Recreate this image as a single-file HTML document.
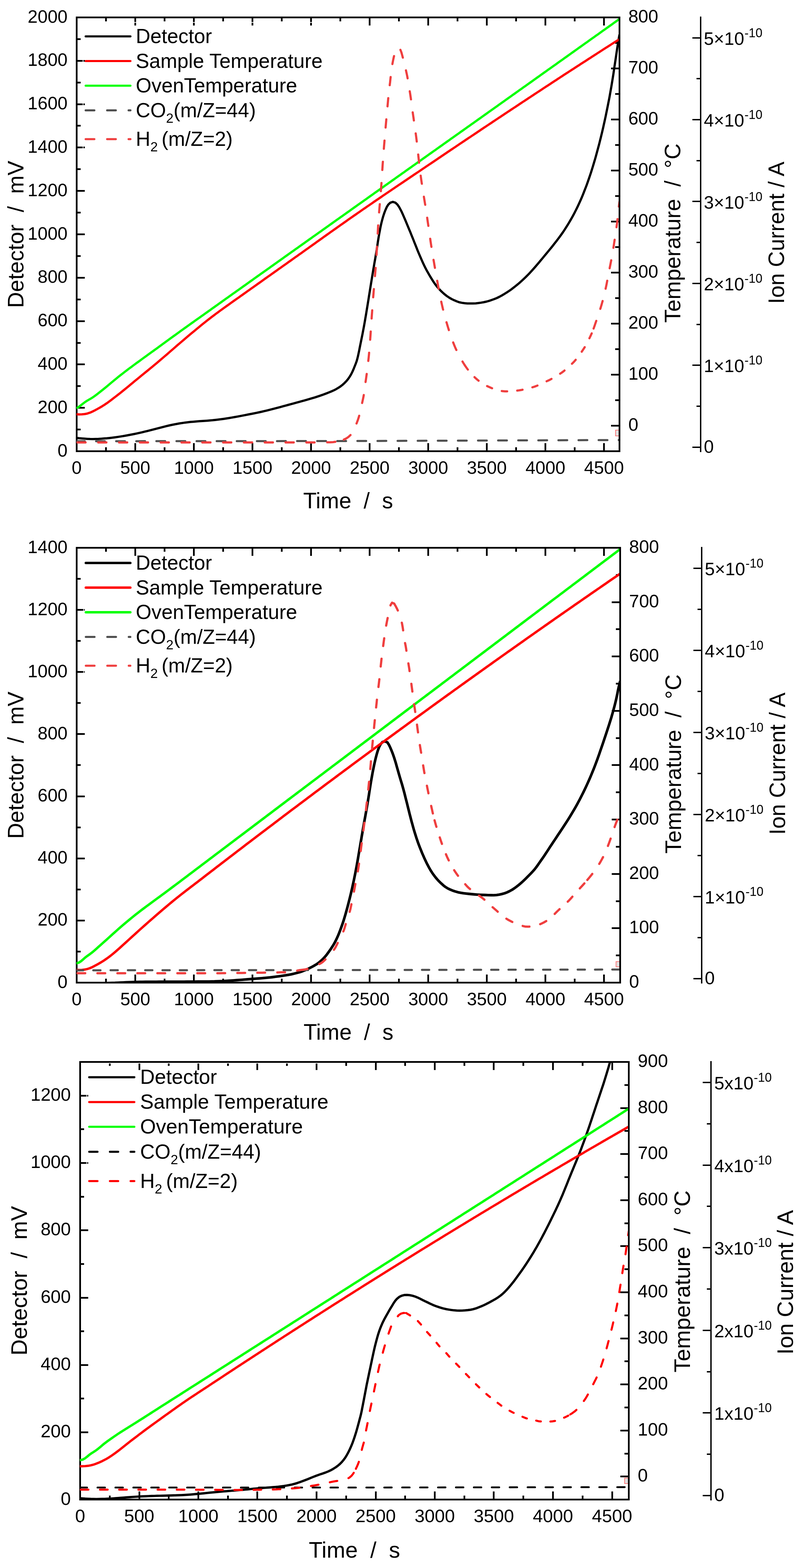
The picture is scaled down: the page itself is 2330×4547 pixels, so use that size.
<!DOCTYPE html>
<html lang="en">
<head>
<meta charset="utf-8">
<title>Detector, temperature and ion current over time</title>
<style>
html,body{margin:0;padding:0;background:#fff;}
body{width:2330px;height:4547px;overflow:hidden;}
svg{display:block;font-family:"Liberation Sans", Arial, sans-serif;}
text{fill:#000;}
</style>
</head>
<body>
<svg width="2330" height="4547" viewBox="0 0 2330 4547">
<rect width="2330" height="4547" fill="#fff"/>
<g id="panel1">
<rect x="1786" y="1247.3" width="12" height="16.7" fill="#e0e0e0" stroke="#ff7070" stroke-width="2"/>
<g shape-rendering="crispEdges">
<rect x="220" y="48" width="1580" height="5" fill="#000"/>
<rect x="220" y="1306" width="1580" height="5" fill="#000"/>
<rect x="220" y="48" width="5" height="1263" fill="#000"/>
<rect x="1795" y="48" width="5" height="1263" fill="#000"/>
<rect x="220" y="1285" width="5" height="21" fill="#000"/>
<rect x="220" y="53" width="5" height="21" fill="#000"/>
<rect x="305" y="1297" width="5" height="9" fill="#000"/>
<rect x="305" y="53" width="5" height="9" fill="#000"/>
<rect x="390" y="1285" width="5" height="21" fill="#000"/>
<rect x="390" y="53" width="5" height="21" fill="#000"/>
<rect x="475" y="1297" width="5" height="9" fill="#000"/>
<rect x="475" y="53" width="5" height="9" fill="#000"/>
<rect x="560" y="1285" width="5" height="21" fill="#000"/>
<rect x="560" y="53" width="5" height="21" fill="#000"/>
<rect x="645" y="1297" width="5" height="9" fill="#000"/>
<rect x="645" y="53" width="5" height="9" fill="#000"/>
<rect x="730" y="1285" width="5" height="21" fill="#000"/>
<rect x="730" y="53" width="5" height="21" fill="#000"/>
<rect x="815" y="1297" width="5" height="9" fill="#000"/>
<rect x="815" y="53" width="5" height="9" fill="#000"/>
<rect x="900" y="1285" width="5" height="21" fill="#000"/>
<rect x="900" y="53" width="5" height="21" fill="#000"/>
<rect x="985" y="1297" width="5" height="9" fill="#000"/>
<rect x="985" y="53" width="5" height="9" fill="#000"/>
<rect x="1070" y="1285" width="5" height="21" fill="#000"/>
<rect x="1070" y="53" width="5" height="21" fill="#000"/>
<rect x="1155" y="1297" width="5" height="9" fill="#000"/>
<rect x="1155" y="53" width="5" height="9" fill="#000"/>
<rect x="1240" y="1285" width="5" height="21" fill="#000"/>
<rect x="1240" y="53" width="5" height="21" fill="#000"/>
<rect x="1325" y="1297" width="5" height="9" fill="#000"/>
<rect x="1325" y="53" width="5" height="9" fill="#000"/>
<rect x="1410" y="1285" width="5" height="21" fill="#000"/>
<rect x="1410" y="53" width="5" height="21" fill="#000"/>
<rect x="1495" y="1297" width="5" height="9" fill="#000"/>
<rect x="1495" y="53" width="5" height="9" fill="#000"/>
<rect x="1580" y="1285" width="5" height="21" fill="#000"/>
<rect x="1580" y="53" width="5" height="21" fill="#000"/>
<rect x="1665" y="1297" width="5" height="9" fill="#000"/>
<rect x="1665" y="53" width="5" height="9" fill="#000"/>
<rect x="1750" y="1285" width="5" height="21" fill="#000"/>
<rect x="1750" y="53" width="5" height="21" fill="#000"/>
<rect x="225" y="48" width="21" height="5" fill="#000"/>
<rect x="225" y="111" width="9" height="5" fill="#000"/>
<rect x="225" y="174" width="21" height="5" fill="#000"/>
<rect x="225" y="237" width="9" height="5" fill="#000"/>
<rect x="225" y="300" width="21" height="5" fill="#000"/>
<rect x="225" y="362" width="9" height="5" fill="#000"/>
<rect x="225" y="425" width="21" height="5" fill="#000"/>
<rect x="225" y="488" width="9" height="5" fill="#000"/>
<rect x="225" y="551" width="21" height="5" fill="#000"/>
<rect x="225" y="614" width="9" height="5" fill="#000"/>
<rect x="225" y="677" width="21" height="5" fill="#000"/>
<rect x="225" y="740" width="9" height="5" fill="#000"/>
<rect x="225" y="803" width="21" height="5" fill="#000"/>
<rect x="225" y="866" width="9" height="5" fill="#000"/>
<rect x="225" y="929" width="21" height="5" fill="#000"/>
<rect x="225" y="992" width="9" height="5" fill="#000"/>
<rect x="225" y="1054" width="21" height="5" fill="#000"/>
<rect x="225" y="1117" width="9" height="5" fill="#000"/>
<rect x="225" y="1180" width="21" height="5" fill="#000"/>
<rect x="225" y="1243" width="9" height="5" fill="#000"/>
<rect x="225" y="1306" width="21" height="5" fill="#000"/>
<rect x="1773" y="48" width="22" height="5" fill="#000"/>
<rect x="1785" y="122" width="10" height="5" fill="#000"/>
<rect x="1773" y="196" width="22" height="5" fill="#000"/>
<rect x="1785" y="270" width="10" height="5" fill="#000"/>
<rect x="1773" y="344" width="22" height="5" fill="#000"/>
<rect x="1785" y="418" width="10" height="5" fill="#000"/>
<rect x="1773" y="492" width="22" height="5" fill="#000"/>
<rect x="1785" y="566" width="10" height="5" fill="#000"/>
<rect x="1773" y="640" width="22" height="5" fill="#000"/>
<rect x="1785" y="714" width="10" height="5" fill="#000"/>
<rect x="1773" y="788" width="22" height="5" fill="#000"/>
<rect x="1785" y="862" width="10" height="5" fill="#000"/>
<rect x="1773" y="936" width="22" height="5" fill="#000"/>
<rect x="1785" y="1010" width="10" height="5" fill="#000"/>
<rect x="1773" y="1084" width="22" height="5" fill="#000"/>
<rect x="1785" y="1158" width="10" height="5" fill="#000"/>
<rect x="1773" y="1232" width="22" height="5" fill="#000"/>
<rect x="1785" y="1306" width="10" height="5" fill="#000"/>
<rect x="2031" y="48" width="4" height="1263" fill="#000"/>
<rect x="2009" y="108" width="22" height="4" fill="#000"/>
<rect x="2021" y="226" width="10" height="4" fill="#000"/>
<rect x="2009" y="345" width="22" height="4" fill="#000"/>
<rect x="2021" y="464" width="10" height="4" fill="#000"/>
<rect x="2009" y="582" width="22" height="4" fill="#000"/>
<rect x="2021" y="701" width="10" height="4" fill="#000"/>
<rect x="2009" y="820" width="22" height="4" fill="#000"/>
<rect x="2021" y="939" width="10" height="4" fill="#000"/>
<rect x="2009" y="1057" width="22" height="4" fill="#000"/>
<rect x="2021" y="1176" width="10" height="4" fill="#000"/>
<rect x="2009" y="1295" width="22" height="4" fill="#000"/>
</g>
<path d="M241,440V65H945" fill="none" stroke="#fff" stroke-width="2" shape-rendering="crispEdges"/>
<clipPath id="c1"><rect x="221.5" y="48" width="1573.5" height="1263"/></clipPath>
<g clip-path="url(#c1)" fill="none" stroke-linejoin="round">
<path d="M221.5,1270 L229.5,1270.8 L237.5,1271.4 L245.5,1272.1 L253.5,1272.7 L261.5,1273.1 L269.5,1273.2 L277.5,1273 L285.5,1272.7 L293.5,1272.2 L301.5,1271.6 L309.5,1271 L317.5,1270.2 L325.4,1269.3 L333.4,1268.2 L341.3,1267.1 L349.2,1265.9 L357.2,1264.6 L365.1,1263.2 L373,1261.8 L380.8,1260.3 L388.7,1258.7 L396.5,1257.1 L404.4,1255.3 L412.2,1253.6 L420,1251.7 L427.8,1249.8 L435.5,1247.9 L443.3,1245.9 L451.1,1243.9 L458.8,1241.9 L466.6,1239.8 L474.4,1237.8 L482.1,1235.9 L490,1234 L497.8,1232.3 L505.6,1230.7 L513.5,1229.2 L521.4,1227.8 L529.3,1226.6 L537.2,1225.4 L545.1,1224.5 L553.1,1223.6 L561.1,1222.9 L569.1,1222.2 L577.1,1221.6 L585.1,1221.1 L593.1,1220.6 L601.1,1220 L609.1,1219.3 L617.1,1218.6 L625,1217.7 L633,1216.8 L640.9,1215.8 L648.9,1214.7 L656.8,1213.5 L664.7,1212.3 L672.6,1210.9 L680.5,1209.5 L688.4,1208.1 L696.3,1206.6 L704.1,1205.1 L712,1203.6 L719.9,1202 L727.8,1200.5 L735.6,1199 L743.5,1197.4 L751.3,1195.7 L759.2,1194 L767,1192.2 L774.8,1190.3 L782.5,1188.4 L790.3,1186.4 L798.1,1184.4 L805.8,1182.4 L813.6,1180.3 L821.3,1178.2 L829,1176.1 L836.8,1174 L844.5,1171.9 L852.2,1169.8 L860,1167.7 L867.7,1165.6 L875.5,1163.4 L883.2,1161.3 L890.9,1159.1 L898.6,1156.9 L906.3,1154.6 L914,1152.3 L921.6,1149.8 L929.2,1147.3 L936.8,1144.7 L944.3,1141.9 L951.8,1139 L959.3,1136 L966.6,1132.8 L973.8,1129.3 L980.7,1125.3 L987.5,1120.9 L993.8,1116 L999.8,1110.6 L1005.4,1104.8 L1010.4,1098.6 L1014.9,1092 L1019,1085.1 L1022.6,1077.9 L1025.8,1070.6 L1028.8,1063.1 L1031.8,1055.6 L1034.6,1048.1 L1036.8,1040.5 L1038.7,1032.7 L1040.4,1024.9 L1042.1,1017 L1043.6,1009.1 L1045.2,1001.2 L1046.8,993.4 L1048.4,985.5 L1050,977.7 L1051.6,969.8 L1053.1,961.9 L1054.6,954 L1056.1,946.2 L1057.5,938.3 L1058.9,930.4 L1060.2,922.5 L1061.6,914.6 L1062.9,906.7 L1064.2,898.8 L1065.5,890.9 L1066.8,882.9 L1068.1,875 L1069.4,867.1 L1070.6,859.2 L1071.9,851.3 L1073.2,843.4 L1074.4,835.4 L1075.7,827.5 L1077,819.6 L1078.3,811.7 L1079.6,803.8 L1080.9,795.9 L1082.2,788 L1083.5,780.1 L1084.9,772.2 L1086.2,764.3 L1087.6,756.4 L1089,748.5 L1090.3,740.6 L1091.7,732.7 L1093,724.8 L1094.2,716.8 L1095.4,708.9 L1096.5,701 L1097.8,693.1 L1099.1,685.2 L1100.5,677.2 L1102,669.3 L1103.5,661.5 L1105.1,653.6 L1106.9,645.8 L1108.9,638 L1111,630.3 L1113.4,622.6 L1116,615.1 L1119,607.6 L1122.4,600.1 L1126.6,593.4 L1132.4,587.9 L1139.9,585.4 L1147.5,587.8 L1153.3,593.3 L1157.8,599.8 L1161.7,607 L1165.4,614.1 L1168.7,621.4 L1171.9,628.7 L1175.1,636.1 L1178.2,643.5 L1181.3,650.9 L1184.3,658.3 L1187.4,665.7 L1190.5,673.1 L1193.5,680.6 L1196.5,688 L1199.5,695.4 L1202.4,702.9 L1205.4,710.3 L1208.4,717.8 L1211.3,725.2 L1214.4,732.7 L1217.5,740 L1220.7,747.4 L1223.9,754.7 L1227.2,762.1 L1230.6,769.3 L1234.1,776.5 L1237.8,783.6 L1241.8,790.6 L1245.8,797.6 L1249.9,804.5 L1254.1,811.3 L1258.4,818 L1263,824.6 L1267.9,830.9 L1273.1,837.1 L1278.6,842.8 L1284.4,848.4 L1290.4,853.7 L1296.8,858.6 L1303.5,863.1 L1310.4,867.1 L1317.6,870.6 L1325,873.8 L1332.5,876.5 L1340.3,878.1 L1348.3,879.2 L1356.3,879.9 L1364.3,880 L1372.3,880 L1380.3,879.8 L1388.3,878.8 L1396.2,877.6 L1404.2,876.2 L1412,874.5 L1419.7,872.3 L1427.3,869.7 L1434.8,867 L1442.3,864 L1449.4,860.5 L1456.5,856.6 L1463.4,852.5 L1470.2,848.3 L1476.9,843.9 L1483.4,839.3 L1489.8,834.4 L1496.1,829.5 L1502.4,824.4 L1508.5,819.2 L1514.4,813.9 L1520.3,808.4 L1526.1,802.8 L1531.7,797.2 L1537.3,791.4 L1542.7,785.5 L1548.1,779.5 L1553.4,773.5 L1558.6,767.4 L1563.8,761.3 L1568.9,755.1 L1574.1,749 L1579.2,742.8 L1584.3,736.7 L1589.4,730.5 L1594.5,724.3 L1599.6,718.1 L1604.6,711.9 L1609.5,705.6 L1614.5,699.3 L1619.3,692.9 L1624.1,686.5 L1628.8,680 L1633.4,673.5 L1637.9,666.8 L1642.2,660.1 L1646.5,653.3 L1650.7,646.4 L1654.7,639.5 L1658.7,632.6 L1662.6,625.6 L1666.4,618.5 L1670,611.4 L1673.6,604.2 L1677.1,597 L1680.5,589.7 L1683.8,582.4 L1687,575.1 L1690.1,567.7 L1693.1,560.2 L1696,552.8 L1698.9,545.3 L1701.8,537.8 L1704.5,530.3 L1707.2,522.7 L1709.8,515.1 L1712.4,507.5 L1714.9,499.9 L1717.3,492.3 L1719.7,484.6 L1722,477 L1724.3,469.3 L1726.6,461.6 L1728.8,453.9 L1730.9,446.1 L1733,438.4 L1735.1,430.7 L1737.2,422.9 L1739.2,415.2 L1741.1,407.4 L1743.1,399.6 L1745,391.8 L1746.9,384 L1748.7,376.2 L1750.5,368.4 L1752.2,360.6 L1754,352.8 L1755.7,344.9 L1757.4,337.1 L1759,329.2 L1760.6,321.4 L1762.2,313.5 L1763.8,305.7 L1765.3,297.8 L1766.9,289.9 L1768.4,282.1 L1769.8,274.2 L1771.2,266.3 L1772.6,258.4 L1774,250.5 L1775.3,242.6 L1776.6,234.7 L1777.9,226.8 L1779.2,218.8 L1780.4,210.9 L1781.5,203 L1782.7,195.1 L1783.9,187.1 L1785.1,179.2 L1786.3,171.3 L1787.5,163.3 L1788.6,155.4 L1789.8,147.5 L1791,139.6 L1792.2,131.6 L1793.5,123.7 L1794.8,115.8 L1796.1,107.9 L1797.5,100" stroke="#000000" stroke-width="6.5"/>
<path d="M221.5,1201.3 L229.5,1201.7 L237.6,1201.6 L245.6,1200.8 L253.4,1199.2 L261,1196.7 L268.3,1193.5 L275.5,1189.9 L282.6,1186 L289.6,1182.1 L296.5,1178.1 L303.3,1173.8 L309.9,1169.3 L316.4,1164.6 L322.8,1159.8 L329.2,1154.9 L335.6,1150 L341.9,1145.1 L348.2,1140.2 L354.5,1135.1 L360.7,1130.1 L367,1125 L373.2,1119.9 L379.3,1114.8 L385.5,1109.7 L391.7,1104.6 L397.9,1099.5 L404.1,1094.4 L410.3,1089.3 L416.5,1084.2 L422.8,1079.1 L429,1074.1 L435.2,1069 L441.4,1063.9 L447.6,1058.8 L453.8,1053.7 L459.9,1048.5 L466,1043.3 L472.1,1038.1 L478.2,1032.9 L484.3,1027.7 L490.4,1022.4 L496.4,1017.1 L502.5,1011.9 L508.5,1006.6 L514.6,1001.3 L520.7,996.1 L526.8,990.9 L532.9,985.7 L539,980.5 L545.1,975.3 L551.3,970.1 L557.4,965 L563.6,959.9 L569.8,954.8 L576,949.7 L582.2,944.6 L588.4,939.5 L594.7,934.5 L601,929.5 L607.3,924.6 L613.7,919.7 L620.1,914.8 L626.5,910 L632.9,905.3 L639.4,900.5 L645.9,895.8 L652.4,891.1 L659,886.5 L665.5,881.8 L672,877.2 L678.6,872.5 L685.1,867.9 L691.7,863.3 L698.2,858.6 L704.8,854 L711.3,849.3 L717.9,844.7 L724.4,840.1 L731,835.4 L737.5,830.8 L744.1,826.1 L750.6,821.5 L757.2,816.8 L763.7,812.2 L770.2,807.5 L776.8,802.9 L783.3,798.3 L789.9,793.6 L796.4,789 L803,784.3 L809.5,779.7 L816.1,775.1 L822.6,770.4 L829.2,765.8 L835.7,761.1 L842.3,756.5 L848.8,751.8 L855.3,747.2 L861.9,742.6 L868.4,737.9 L875,733.3 L881.5,728.6 L888.1,723.9 L894.6,719.3 L901.1,714.6 L907.7,710 L914.2,705.3 L920.7,700.7 L927.3,696 L933.8,691.4 L940.3,686.7 L946.9,682 L953.4,677.4 L960,672.7 L966.5,668.1 L973.1,663.5 L979.6,658.8 L986.2,654.2 L992.7,649.6 L999.3,645 L1005.9,640.3 L1012.4,635.7 L1019,631.1 L1025.6,626.5 L1032.2,622 L1038.8,617.4 L1045.4,612.8 L1052,608.2 L1058.6,603.7 L1065.2,599.1 L1071.8,594.6 L1078.4,590.1 L1085,585.5 L1091.6,581 L1098.3,576.5 L1104.9,572 L1111.5,567.4 L1118.2,562.9 L1124.8,558.4 L1131.5,553.9 L1138.1,549.4 L1144.8,544.9 L1151.4,540.4 L1158.1,535.9 L1164.7,531.5 L1171.4,527 L1178,522.5 L1184.7,518 L1191.3,513.5 L1198,509 L1204.6,504.5 L1211.3,500.1 L1218,495.6 L1224.6,491.1 L1231.3,486.6 L1237.9,482.1 L1244.6,477.6 L1251.2,473.2 L1257.9,468.7 L1264.6,464.2 L1271.2,459.7 L1277.9,455.2 L1284.5,450.7 L1291.2,446.3 L1297.8,441.8 L1304.5,437.3 L1311.2,432.8 L1317.8,428.4 L1324.5,423.9 L1331.1,419.4 L1337.8,414.9 L1344.5,410.5 L1351.1,406 L1357.8,401.5 L1364.5,397.1 L1371.2,392.6 L1377.8,388.2 L1384.5,383.7 L1391.2,379.2 L1397.8,374.8 L1404.5,370.3 L1411.2,365.9 L1417.9,361.4 L1424.6,357 L1431.2,352.5 L1437.9,348.1 L1444.6,343.6 L1451.3,339.2 L1458,334.8 L1464.7,330.3 L1471.3,325.9 L1478,321.5 L1484.7,317 L1491.4,312.6 L1498.1,308.2 L1504.8,303.7 L1511.5,299.3 L1518.2,294.9 L1524.9,290.5 L1531.6,286 L1538.3,281.6 L1545,277.2 L1551.7,272.8 L1558.4,268.4 L1565.1,264 L1571.8,259.6 L1578.5,255.1 L1585.2,250.7 L1591.9,246.4 L1598.6,242 L1605.4,237.6 L1612.1,233.2 L1618.8,228.8 L1625.5,224.4 L1632.2,220 L1639,215.6 L1645.7,211.3 L1652.4,206.9 L1659.2,202.5 L1665.9,198.2 L1672.6,193.8 L1679.4,189.4 L1686.1,185.1 L1692.8,180.7 L1699.6,176.4 L1706.3,172 L1713.1,167.7 L1719.8,163.3 L1726.6,159 L1733.3,154.6 L1740.1,150.3 L1746.8,145.9 L1753.6,141.6 L1760.3,137.3 L1767.1,133 L1773.8,128.6 L1780.6,124.3 L1787.4,120 L1794.1,115.7 L1797.5,113.5" stroke="#ff0000" stroke-width="6.5"/>
<path d="M221.5,1184 L228.7,1179.9 L234.9,1175.2 L241.1,1170.3 L247.4,1165.5 L254.1,1161.3 L261.1,1157.3 L267.9,1153.2 L274.5,1148.6 L280.9,1143.8 L287.3,1138.9 L293.6,1133.9 L299.9,1128.9 L306.1,1123.9 L312.3,1118.8 L318.5,1113.6 L324.6,1108.4 L330.8,1103.2 L337,1098.2 L343.2,1093.1 L349.5,1088.1 L355.8,1083.2 L362.2,1078.2 L368.6,1073.4 L375,1068.5 L381.4,1063.8 L387.9,1059 L394.4,1054.2 L400.9,1049.5 L407.3,1044.8 L413.8,1040 L420.3,1035.3 L426.8,1030.6 L433.3,1025.9 L439.9,1021.2 L446.4,1016.5 L452.9,1011.8 L459.4,1007.1 L465.8,1002.3 L472.3,997.6 L478.8,992.9 L485.3,988.1 L491.8,983.4 L498.3,978.7 L504.8,974 L511.3,969.3 L517.8,964.6 L524.3,959.9 L530.9,955.2 L537.4,950.5 L543.9,945.9 L550.5,941.2 L557,936.5 L563.6,931.9 L570.1,927.2 L576.7,922.6 L583.2,917.9 L589.7,913.3 L596.3,908.6 L602.8,904 L609.4,899.3 L615.9,894.7 L622.5,890 L629,885.4 L635.6,880.7 L642.1,876 L648.6,871.4 L655.2,866.7 L661.7,862.1 L668.3,857.4 L674.8,852.7 L681.3,848.1 L687.9,843.4 L694.4,838.8 L701,834.1 L707.5,829.5 L714.1,824.8 L720.6,820.1 L727.1,815.5 L733.7,810.8 L740.2,806.2 L746.8,801.5 L753.3,796.9 L759.9,792.2 L766.4,787.6 L773,782.9 L779.5,778.3 L786,773.6 L792.6,769 L799.1,764.3 L805.7,759.6 L812.2,755 L818.8,750.3 L825.3,745.7 L831.9,741 L838.4,736.4 L845,731.7 L851.5,727.1 L858,722.4 L864.6,717.8 L871.1,713.1 L877.7,708.5 L884.2,703.8 L890.8,699.2 L897.3,694.5 L903.9,689.9 L910.4,685.2 L917,680.6 L923.5,675.9 L930.1,671.3 L936.6,666.6 L943.2,662 L949.7,657.3 L956.3,652.7 L962.8,648 L969.3,643.4 L975.9,638.7 L982.4,634.1 L989,629.4 L995.5,624.8 L1002.1,620.1 L1008.6,615.5 L1015.2,610.8 L1021.7,606.2 L1028.3,601.5 L1034.8,596.9 L1041.4,592.2 L1047.9,587.6 L1054.5,582.9 L1061,578.3 L1067.6,573.6 L1074.1,569 L1080.7,564.3 L1087.2,559.7 L1093.8,555 L1100.3,550.4 L1106.9,545.7 L1113.4,541.1 L1120,536.4 L1126.5,531.8 L1133.1,527.2 L1139.6,522.5 L1146.2,517.9 L1152.7,513.2 L1159.3,508.6 L1165.8,503.9 L1172.4,499.3 L1178.9,494.6 L1185.5,490 L1192,485.4 L1198.6,480.7 L1205.1,476.1 L1211.7,471.4 L1218.2,466.8 L1224.8,462.1 L1231.3,457.5 L1237.9,452.8 L1244.4,448.2 L1251,443.5 L1257.5,438.9 L1264.1,434.3 L1270.6,429.6 L1277.2,425 L1283.7,420.3 L1290.3,415.7 L1296.8,411 L1303.4,406.4 L1309.9,401.7 L1316.5,397.1 L1323,392.4 L1329.6,387.8 L1336.1,383.1 L1342.7,378.5 L1349.2,373.9 L1355.8,369.2 L1362.3,364.6 L1368.9,359.9 L1375.4,355.3 L1382,350.6 L1388.5,346 L1395.1,341.3 L1401.6,336.7 L1408.2,332 L1414.7,327.4 L1421.3,322.7 L1427.8,318.1 L1434.4,313.4 L1440.9,308.8 L1447.4,304.1 L1454,299.4 L1460.5,294.8 L1467.1,290.1 L1473.6,285.5 L1480.2,280.8 L1486.7,276.2 L1493.3,271.5 L1499.8,266.9 L1506.4,262.2 L1512.9,257.6 L1519.4,252.9 L1526,248.3 L1532.5,243.6 L1539.1,239 L1545.6,234.3 L1552.2,229.6 L1558.7,225 L1565.3,220.3 L1571.8,215.7 L1578.3,211 L1584.9,206.4 L1591.4,201.7 L1598,197.1 L1604.5,192.4 L1611.1,187.8 L1617.6,183.1 L1624.1,178.4 L1630.7,173.8 L1637.2,169.1 L1643.8,164.5 L1650.3,159.8 L1656.9,155.2 L1663.4,150.5 L1669.9,145.8 L1676.5,141.2 L1683,136.5 L1689.6,131.9 L1696.1,127.2 L1702.7,122.6 L1709.2,117.9 L1715.7,113.2 L1722.3,108.6 L1728.8,103.9 L1735.4,99.3 L1741.9,94.6 L1748.4,89.9 L1755,85.3 L1761.5,80.6 L1768.1,76 L1774.6,71.3 L1781.1,66.7 L1787.7,62 L1794.2,57.3 L1797.5,55" stroke="#00ff00" stroke-width="6.5"/>
<path d="M221.5,1279.5 L1000,1279 L1797.5,1276" stroke="#505050" stroke-width="6" stroke-dasharray="25.5 32.83" stroke-dashoffset="1.1" stroke-linecap="round"/>
<path d="M221.5,1283 L229.5,1283 L237.5,1283 L245.5,1283 L253.5,1283 L261.6,1283 L269.6,1283 L277.6,1283 L285.6,1283 L293.6,1283 L301.6,1283 L309.6,1283 L317.6,1283 L325.6,1283 L333.6,1283 L341.7,1283 L349.7,1283 L357.7,1283 L365.7,1283 L373.7,1283 L381.7,1283 L389.7,1283 L397.7,1283 L405.7,1283 L413.8,1283 L421.8,1283 L429.8,1283 L437.8,1283 L445.8,1283 L453.8,1283 L461.8,1283 L469.8,1283 L477.8,1283 L485.8,1283 L493.9,1283 L501.9,1283 L509.9,1283 L517.9,1283 L525.9,1283 L533.9,1283 L541.9,1283 L549.9,1283 L557.9,1283 L566,1283 L574,1283 L582,1283 L590,1283 L598,1283 L606,1283 L614,1283 L622,1283 L630,1283 L638,1283 L646.1,1283 L654.1,1283 L662.1,1283 L670.1,1283 L678.1,1283 L686.1,1283 L694.1,1283 L702.1,1283 L710.1,1283 L718.2,1283 L726.2,1283 L734.2,1283 L742.2,1283 L750.2,1283 L758.2,1283 L766.2,1283 L774.2,1283 L782.2,1283 L790.3,1283 L798.3,1283 L806.3,1283 L814.3,1283 L822.3,1283 L830.3,1283 L838.3,1283 L846.3,1283 L854.3,1283 L862.3,1283 L870.4,1283 L878.4,1283 L886.4,1283 L894.4,1283 L902.4,1283 L910.4,1283 L918.4,1283 L926.5,1282.9 L934.5,1282.8 L942.5,1282.8 L950.5,1282.7 L958.5,1282.5 L966.5,1282.1 L974.4,1281 L982.3,1279.6 L990.1,1277.6 L997.6,1274.8" stroke="#ef3f3f" stroke-width="6.3" stroke-dasharray="23.7 36.7" stroke-dashoffset="-3.1" stroke-linecap="round"/>
<path d="M997.6,1274.8 L1004.8,1271.3 L1011.4,1266.8 L1017.4,1261.2 L1022.1,1255 L1026,1248.1 L1029.4,1240.6 L1032.5,1233.1 L1035.5,1225.7 L1038.3,1218.2 L1040.8,1210.6 L1043,1202.9 L1045,1195.1 L1046.8,1187.3 L1048.4,1179.5 L1050.1,1171.6 L1051.8,1163.8 L1053.5,1156 L1055.1,1148.1 L1056.3,1140.2 L1057.4,1132.3 L1058.4,1124.3 L1059.4,1116.4 L1060.6,1108.4 L1061.8,1100.5 L1062.9,1092.6 L1064,1084.7 L1065,1076.7 L1065.9,1068.8 L1066.9,1060.8 L1067.9,1052.9 L1068.8,1044.9 L1069.7,1037 L1070.5,1029 L1071.2,1021 L1071.9,1013 L1072.5,1005.1 L1073.2,997.1 L1073.8,989.1 L1074.4,981.1 L1075,973.1 L1075.5,965.1 L1076,957.1 L1076.5,949.1 L1077.1,941.1 L1077.6,933.2 L1078.2,925.2 L1078.7,917.2 L1079.3,909.2 L1079.9,901.2 L1080.5,893.2 L1081.1,885.2 L1081.7,877.2 L1082.3,869.2 L1082.9,861.3 L1083.6,853.3 L1084.2,845.3 L1084.9,837.3 L1085.5,829.3 L1086.2,821.3 L1086.9,813.4 L1087.6,805.4 L1088.2,797.4 L1088.9,789.4 L1089.5,781.4 L1090.1,773.4 L1090.7,765.4 L1091.3,757.5 L1091.8,749.5 L1092.4,741.5 L1092.8,733.5 L1093.3,725.5 L1093.8,717.5 L1094.2,709.5 L1094.7,701.5 L1095.1,693.5 L1095.5,685.5 L1096,677.5 L1096.4,669.5 L1096.9,661.5 L1097.3,653.5 L1097.8,645.5 L1098.4,637.5 L1098.9,629.5 L1099.5,621.5 L1100.2,613.5 L1100.8,605.6 L1101.5,597.6 L1102.2,589.6 L1102.9,581.6 L1103.6,573.6 L1104.2,565.7 L1104.9,557.7 L1105.5,549.7 L1106.1,541.7 L1106.7,533.7 L1107.2,525.7 L1107.8,517.7 L1108.3,509.7 L1108.8,501.7 L1109.3,493.7 L1109.8,485.7 L1110.3,477.8 L1110.9,469.8 L1111.5,461.8 L1112,453.8 L1112.6,445.8 L1113.3,437.8 L1113.9,429.8 L1114.5,421.8 L1115.2,413.9 L1115.8,405.9 L1116.5,397.9 L1117.2,389.9 L1117.8,381.9 L1118.5,373.9 L1119.2,366 L1119.9,358 L1120.6,350 L1121.3,342 L1122,334 L1122.7,326.1 L1123.5,318.1 L1124.2,310.1 L1125,302.1 L1125.7,294.2 L1126.4,286.2 L1127.2,278.2 L1127.9,270.2 L1128.8,262.3 L1129.8,254.3 L1130.9,246.4 L1131.9,238.4 L1132.7,230.5 L1133.6,222.5 L1134.4,214.5 L1135.4,206.6 L1136.6,198.7 L1137.8,190.7 L1139.1,182.8 L1140.6,175 L1142.3,167 L1144.2,159.1 L1146.6,151.6 L1150.5,144.7 L1156.6,140 L1161.9,144.5" stroke="#ef3f3f" stroke-width="6.3" stroke-dasharray="23.7 38" stroke-linecap="round"/>
<path d="M1161.9,144.5 L1164.7,151.9 L1167,160.1 L1169.1,167.9 L1171.2,175.6 L1173.1,183.4 L1174.9,191.3 L1176.7,199 L1178.6,206.9 L1180.3,214.7 L1181.9,222.5 L1183.3,230.4 L1184.6,238.3 L1185.8,246.2 L1187.2,254.1 L1188.5,262 L1189.8,269.9 L1191,277.8 L1192.2,285.8 L1193.2,293.7 L1194.3,301.7 L1195.3,309.6 L1196.4,317.5 L1197.5,325.5 L1198.6,333.4 L1199.8,341.3 L1200.9,349.3 L1202,357.2 L1203.2,365.1 L1204.3,373 L1205.4,381 L1206.5,388.9 L1207.6,396.8 L1208.6,404.8 L1209.5,412.7 L1210.5,420.7 L1211.4,428.6 L1212.3,436.6 L1213.1,444.6 L1213.9,452.5 L1214.8,460.5 L1215.6,468.5 L1216.5,476.4 L1217.5,484.4 L1218.5,492.3 L1219.5,500.3 L1220.5,508.2 L1221.6,516.2 L1222.7,524.1 L1223.9,532 L1225.1,539.9 L1226.4,547.8 L1227.6,555.8 L1228.9,563.7 L1230.1,571.6 L1231.4,579.5 L1232.7,587.4 L1234,595.3 L1235.2,603.2 L1236.5,611.1 L1237.7,619 L1238.9,627 L1240,634.9 L1241.1,642.8 L1242.3,650.7 L1243.4,658.7 L1244.5,666.6 L1245.7,674.5 L1246.8,682.5 L1248,690.4 L1249.1,698.3 L1250.3,706.2 L1251.5,714.1 L1252.7,722.1 L1254,730 L1255.3,737.9 L1256.7,745.8 L1258,753.7 L1259.4,761.6 L1260.7,769.4 L1262.1,777.3 L1263.4,785.2 L1264.8,793.1 L1266.2,801 L1267.6,808.9 L1269.1,816.8 L1270.5,824.7 L1271.9,832.6 L1273.4,840.4 L1274.9,848.3 L1276.4,856.2 L1278,864 L1279.7,871.9 L1281.4,879.7 L1283.2,887.5 L1285,895.3 L1287,903 L1289,910.8 L1291,918.5 L1293.2,926.3 L1295.4,934 L1297.7,941.7 L1300,949.3 L1302.4,957 L1304.8,964.6 L1307.4,972.2 L1310,979.8 L1312.8,987.3 L1315.6,994.8 L1318.6,1002.2 L1321.7,1009.6 L1325.1,1016.9 L1328.6,1024.1 L1332.3,1031.2 L1336.1,1038.3 L1340.1,1045.2 L1344.2,1052.1 L1348.5,1058.9" stroke="#ef3f3f" stroke-width="6.3" stroke-dasharray="23.7 38" stroke-linecap="round"/>
<path d="M1348.5,1058.9 L1353,1065.5 L1357.7,1072 L1362.6,1078.3 L1367.9,1084.4 L1373.4,1090.3 L1379.1,1095.8 L1385.1,1101.1 L1391.4,1106.2 L1397.9,1110.9 L1404.7,1115 L1411.8,1118.8 L1419.1,1122.2 L1426.4,1125.3 L1433.9,1128.3 L1441.5,1130.8 L1449.3,1132.6 L1457.2,1134.1 L1465.2,1134.9 L1473.1,1134.8 L1481.2,1134.4 L1489.2,1133.9 L1497.1,1133.1 L1505.1,1132.2 L1513,1130.9 L1520.8,1129.1 L1528.6,1127.1 L1536.4,1125.2 L1544.2,1123.3 L1551.8,1121 L1559.2,1118.1 L1566.4,1114.5 L1573.6,1110.9 L1581,1107.8 L1588.4,1104.7 L1595.6,1101.3 L1602.6,1097.5 L1609.5,1093.4 L1616.4,1089.2 L1623.2,1085 L1629.9,1080.6 L1636.3,1075.9 L1642.4,1070.7 L1648.3,1065.3 L1654.2,1059.9 L1660.1,1054.4 L1665.8,1048.8 L1671,1042.8 L1675.9,1036.5 L1680.7,1030 L1685.4,1023.5 L1690,1016.9 L1694.4,1010.3 L1698.6,1003.4 L1702.5,996.4 L1706.2,989.3 L1709.7,982.1 L1713.2,974.9 L1716.5,967.6 L1719.6,960.3 L1722.4,952.8" stroke="#ef3f3f" stroke-width="6.3" stroke-dasharray="15.7 29.3" stroke-linecap="round"/>
<path d="M1722.4,952.8 L1725.1,945.2 L1727.7,937.6 L1730.3,930 L1732.9,922.5 L1735.5,914.9 L1738,907.3 L1740.6,899.6 L1743,892 L1745.3,884.3 L1747.5,876.7 L1749.6,869 L1751.6,861.2 L1753.5,853.5 L1755.4,845.7 L1757.1,837.9 L1758.8,830.1 L1760.4,822.3 L1761.9,814.4 L1763.5,806.6 L1765,798.7 L1766.5,790.8 L1768,783 L1769.5,775.1 L1771.1,767.2 L1772.6,759.4 L1774.2,751.5 L1775.7,743.7 L1777.1,735.8 L1778.4,727.9 L1779.7,720 L1780.9,712.1 L1782.1,704.1 L1783.3,696.2 L1784.6,688.3 L1785.8,680.4 L1787,672.5 L1788.2,664.6 L1789.2,656.6 L1790.3,648.7 L1791.2,640.7 L1792.1,632.8 L1792.9,624.8 L1793.7,616.8 L1794.5,608.8 L1795.4,600.9 L1796.4,592.9 L1797.5,585" stroke="#ef3f3f" stroke-width="6.3" stroke-dasharray="23.7 36.7" stroke-linecap="round"/>
</g>
<text x="222.5" y="1373.5" font-size="52" text-anchor="middle" fill="#000">0</text>
<text x="392.5" y="1373.5" font-size="52" text-anchor="middle" fill="#000">500</text>
<text x="562.5" y="1373.5" font-size="52" text-anchor="middle" fill="#000">1000</text>
<text x="732.5" y="1373.5" font-size="52" text-anchor="middle" fill="#000">1500</text>
<text x="902.5" y="1373.5" font-size="52" text-anchor="middle" fill="#000">2000</text>
<text x="1072.5" y="1373.5" font-size="52" text-anchor="middle" fill="#000">2500</text>
<text x="1242.5" y="1373.5" font-size="52" text-anchor="middle" fill="#000">3000</text>
<text x="1412.5" y="1373.5" font-size="52" text-anchor="middle" fill="#000">3500</text>
<text x="1582.5" y="1373.5" font-size="52" text-anchor="middle" fill="#000">4000</text>
<text x="1752.5" y="1373.5" font-size="52" text-anchor="middle" fill="#000">4500</text>
<text x="196" y="65.5" font-size="52" text-anchor="end" fill="#000">2000</text>
<text x="196" y="191.3" font-size="52" text-anchor="end" fill="#000">1800</text>
<text x="196" y="317.1" font-size="52" text-anchor="end" fill="#000">1600</text>
<text x="196" y="442.9" font-size="52" text-anchor="end" fill="#000">1400</text>
<text x="196" y="568.7" font-size="52" text-anchor="end" fill="#000">1200</text>
<text x="196" y="694.5" font-size="52" text-anchor="end" fill="#000">1000</text>
<text x="196" y="820.3" font-size="52" text-anchor="end" fill="#000">800</text>
<text x="196" y="946.1" font-size="52" text-anchor="end" fill="#000">600</text>
<text x="196" y="1071.9" font-size="52" text-anchor="end" fill="#000">400</text>
<text x="196" y="1197.7" font-size="52" text-anchor="end" fill="#000">200</text>
<text x="196" y="1323.5" font-size="52" text-anchor="end" fill="#000">0</text>
<text x="1823.2" y="65" font-size="52" text-anchor="start" fill="#000">800</text>
<text x="1823.2" y="213" font-size="52" text-anchor="start" fill="#000">700</text>
<text x="1823.2" y="361" font-size="52" text-anchor="start" fill="#000">600</text>
<text x="1823.2" y="509" font-size="52" text-anchor="start" fill="#000">500</text>
<text x="1823.2" y="657" font-size="52" text-anchor="start" fill="#000">400</text>
<text x="1823.2" y="805" font-size="52" text-anchor="start" fill="#000">300</text>
<text x="1823.2" y="953" font-size="52" text-anchor="start" fill="#000">200</text>
<text x="1823.2" y="1101" font-size="52" text-anchor="start" fill="#000">100</text>
<text x="1823.2" y="1249" font-size="52" text-anchor="start" fill="#000">0</text>
<text x="2042.2" y="129.7" font-size="52">5×10<tspan font-size="36" dy="-21.9" dx="1">-10</tspan></text>
<text x="2042.2" y="367.1" font-size="52">4×10<tspan font-size="36" dy="-21.9" dx="1">-10</tspan></text>
<text x="2042.2" y="604.5" font-size="52">3×10<tspan font-size="36" dy="-21.9" dx="1">-10</tspan></text>
<text x="2042.2" y="841.9" font-size="52">2×10<tspan font-size="36" dy="-21.9" dx="1">-10</tspan></text>
<text x="2042.2" y="1079.3" font-size="52">1×10<tspan font-size="36" dy="-21.9" dx="1">-10</tspan></text>
<text x="2042.2" y="1312.7" font-size="52" text-anchor="start" fill="#000">0</text>
<text x="1010" y="1473.5" font-size="64" text-anchor="middle" fill="#000" xml:space="preserve">Time  /  s</text>
<text transform="translate(68,679.5) rotate(-90)" font-size="64" text-anchor="middle" xml:space="preserve">Detector  /  mV</text>
<text transform="translate(1973.5,676) rotate(-90)" font-size="64" text-anchor="middle" xml:space="preserve">Temperature  /  °C</text>
<text transform="translate(2275,675) rotate(-90)" font-size="64" text-anchor="middle" xml:space="preserve">Ion Current / A</text>
<line x1="248.5" y1="105.5" x2="378.5" y2="105.5" stroke="#000000" stroke-width="6" stroke-linecap="round"/>
<text x="394" y="125" font-size="58.5" xml:space="preserve">Detector</text>
<line x1="248.5" y1="177" x2="378.5" y2="177" stroke="#ff0000" stroke-width="6" stroke-linecap="round"/>
<text x="394" y="196.5" font-size="58.5" xml:space="preserve">Sample Temperature</text>
<line x1="248.5" y1="248.5" x2="378.5" y2="248.5" stroke="#00ff00" stroke-width="6" stroke-linecap="round"/>
<text x="394" y="268" font-size="58.5" xml:space="preserve">OvenTemperature</text>
<line x1="248.5" y1="320" x2="378.5" y2="320" stroke="#505050" stroke-width="6" stroke-linecap="round" stroke-dasharray="25.3 37"/>
<text x="394" y="339.5" font-size="58.5" xml:space="preserve">CO<tspan font-size="39" dy="16">2</tspan><tspan dy="-16">(m/Z=44)</tspan></text>
<line x1="248.5" y1="403.5" x2="378.5" y2="403.5" stroke="#ef3f3f" stroke-width="6" stroke-linecap="round" stroke-dasharray="25.3 37"/>
<text x="394" y="423" font-size="58.5" xml:space="preserve">H<tspan font-size="39" dy="16">2 </tspan><tspan dy="-16">(m/Z=2)</tspan></text>
</g>
<g id="panel2">
<rect x="1787.5" y="2788.5" width="12" height="15" fill="#e0e0e0" stroke="#ff7070" stroke-width="2"/>
<g shape-rendering="crispEdges">
<rect x="220" y="1586" width="1582" height="5" fill="#000"/>
<rect x="220" y="2847" width="1582" height="5" fill="#000"/>
<rect x="220" y="1586" width="5" height="1266" fill="#000"/>
<rect x="1797" y="1586" width="5" height="1266" fill="#000"/>
<rect x="220" y="2826" width="5" height="21" fill="#000"/>
<rect x="220" y="1591" width="5" height="21" fill="#000"/>
<rect x="305" y="2838" width="5" height="9" fill="#000"/>
<rect x="305" y="1591" width="5" height="9" fill="#000"/>
<rect x="390" y="2826" width="5" height="21" fill="#000"/>
<rect x="390" y="1591" width="5" height="21" fill="#000"/>
<rect x="475" y="2838" width="5" height="9" fill="#000"/>
<rect x="475" y="1591" width="5" height="9" fill="#000"/>
<rect x="560" y="2826" width="5" height="21" fill="#000"/>
<rect x="560" y="1591" width="5" height="21" fill="#000"/>
<rect x="645" y="2838" width="5" height="9" fill="#000"/>
<rect x="645" y="1591" width="5" height="9" fill="#000"/>
<rect x="730" y="2826" width="5" height="21" fill="#000"/>
<rect x="730" y="1591" width="5" height="21" fill="#000"/>
<rect x="815" y="2838" width="5" height="9" fill="#000"/>
<rect x="815" y="1591" width="5" height="9" fill="#000"/>
<rect x="900" y="2826" width="5" height="21" fill="#000"/>
<rect x="900" y="1591" width="5" height="21" fill="#000"/>
<rect x="985" y="2838" width="5" height="9" fill="#000"/>
<rect x="985" y="1591" width="5" height="9" fill="#000"/>
<rect x="1070" y="2826" width="5" height="21" fill="#000"/>
<rect x="1070" y="1591" width="5" height="21" fill="#000"/>
<rect x="1155" y="2838" width="5" height="9" fill="#000"/>
<rect x="1155" y="1591" width="5" height="9" fill="#000"/>
<rect x="1240" y="2826" width="5" height="21" fill="#000"/>
<rect x="1240" y="1591" width="5" height="21" fill="#000"/>
<rect x="1325" y="2838" width="5" height="9" fill="#000"/>
<rect x="1325" y="1591" width="5" height="9" fill="#000"/>
<rect x="1410" y="2826" width="5" height="21" fill="#000"/>
<rect x="1410" y="1591" width="5" height="21" fill="#000"/>
<rect x="1495" y="2838" width="5" height="9" fill="#000"/>
<rect x="1495" y="1591" width="5" height="9" fill="#000"/>
<rect x="1580" y="2826" width="5" height="21" fill="#000"/>
<rect x="1580" y="1591" width="5" height="21" fill="#000"/>
<rect x="1665" y="2838" width="5" height="9" fill="#000"/>
<rect x="1665" y="1591" width="5" height="9" fill="#000"/>
<rect x="1750" y="2826" width="5" height="21" fill="#000"/>
<rect x="1750" y="1591" width="5" height="21" fill="#000"/>
<rect x="225" y="1586" width="21" height="5" fill="#000"/>
<rect x="225" y="1676" width="9" height="5" fill="#000"/>
<rect x="225" y="1766" width="21" height="5" fill="#000"/>
<rect x="225" y="1856" width="9" height="5" fill="#000"/>
<rect x="225" y="1946" width="21" height="5" fill="#000"/>
<rect x="225" y="2036" width="9" height="5" fill="#000"/>
<rect x="225" y="2126" width="21" height="5" fill="#000"/>
<rect x="225" y="2216" width="9" height="5" fill="#000"/>
<rect x="225" y="2307" width="21" height="5" fill="#000"/>
<rect x="225" y="2397" width="9" height="5" fill="#000"/>
<rect x="225" y="2487" width="21" height="5" fill="#000"/>
<rect x="225" y="2577" width="9" height="5" fill="#000"/>
<rect x="225" y="2667" width="21" height="5" fill="#000"/>
<rect x="225" y="2757" width="9" height="5" fill="#000"/>
<rect x="225" y="2847" width="21" height="5" fill="#000"/>
<rect x="1775" y="1586" width="22" height="5" fill="#000"/>
<rect x="1787" y="1665" width="10" height="5" fill="#000"/>
<rect x="1775" y="1744" width="22" height="5" fill="#000"/>
<rect x="1787" y="1822" width="10" height="5" fill="#000"/>
<rect x="1775" y="1901" width="22" height="5" fill="#000"/>
<rect x="1787" y="1980" width="10" height="5" fill="#000"/>
<rect x="1775" y="2059" width="22" height="5" fill="#000"/>
<rect x="1787" y="2138" width="10" height="5" fill="#000"/>
<rect x="1775" y="2216" width="22" height="5" fill="#000"/>
<rect x="1787" y="2295" width="10" height="5" fill="#000"/>
<rect x="1775" y="2374" width="22" height="5" fill="#000"/>
<rect x="1787" y="2453" width="10" height="5" fill="#000"/>
<rect x="1775" y="2532" width="22" height="5" fill="#000"/>
<rect x="1787" y="2611" width="10" height="5" fill="#000"/>
<rect x="1775" y="2689" width="22" height="5" fill="#000"/>
<rect x="1787" y="2768" width="10" height="5" fill="#000"/>
<rect x="1775" y="2847" width="22" height="5" fill="#000"/>
<rect x="2034" y="1586" width="4" height="1266" fill="#000"/>
<rect x="2012" y="1646" width="22" height="4" fill="#000"/>
<rect x="2024" y="1765" width="10" height="4" fill="#000"/>
<rect x="2012" y="1884" width="22" height="4" fill="#000"/>
<rect x="2024" y="2003" width="10" height="4" fill="#000"/>
<rect x="2012" y="2122" width="22" height="4" fill="#000"/>
<rect x="2024" y="2241" width="10" height="4" fill="#000"/>
<rect x="2012" y="2360" width="22" height="4" fill="#000"/>
<rect x="2024" y="2479" width="10" height="4" fill="#000"/>
<rect x="2012" y="2598" width="22" height="4" fill="#000"/>
<rect x="2024" y="2717" width="10" height="4" fill="#000"/>
<rect x="2012" y="2836" width="22" height="4" fill="#000"/>
</g>
<path d="M242.5,1980V1591" fill="none" stroke="#fff" stroke-width="2" shape-rendering="crispEdges"/>
<clipPath id="c2"><rect x="221.5" y="1586" width="1575.5" height="1266"/></clipPath>
<g clip-path="url(#c2)" fill="none" stroke-linejoin="round">
<path d="M221.5,2851 L229.5,2851 L237.6,2851 L245.6,2851 L253.6,2851 L261.6,2851 L269.6,2850.9 L277.7,2850.9 L285.7,2850.9 L293.7,2850.8 L301.7,2850.8 L309.7,2850.7 L317.7,2850.5 L325.7,2850.3 L333.7,2850.1 L341.7,2849.7 L349.8,2849.3 L357.8,2849 L365.8,2848.6 L373.8,2848.3 L381.8,2848 L389.8,2847.8 L397.8,2847.5 L405.8,2847.4 L413.8,2847.2 L421.9,2847.1 L429.9,2847.1 L437.9,2847 L445.9,2847 L453.9,2847 L462,2846.9 L470,2846.9 L478,2846.9 L486,2846.8 L494,2846.8 L502,2846.8 L510.1,2846.8 L518.1,2846.7 L526.1,2846.7 L534.1,2846.7 L542.1,2846.6 L550.2,2846.6 L558.2,2846.5 L566.2,2846.5 L574.2,2846.4 L582.2,2846.4 L590.3,2846.3 L598.3,2846.3 L606.3,2846.2 L614.3,2846 L622.3,2845.9 L630.3,2845.6 L638.3,2845.3 L646.3,2845 L654.3,2844.5 L662.3,2844.1 L670.3,2843.6 L678.3,2843 L686.3,2842.4 L694.3,2841.8 L702.3,2841.2 L710.3,2840.5 L718.3,2839.9 L726.3,2839.3 L734.3,2838.6 L742.3,2838 L750.3,2837.4 L758.3,2836.7 L766.3,2836 L774.3,2835.3 L782.2,2834.5 L790.2,2833.6 L798.2,2832.6 L806.1,2831.5 L814.1,2830.4 L822,2829.3 L829.9,2828.1 L837.8,2826.7 L845.7,2825.2 L853.5,2823.4 L861.3,2821.4 L869.1,2819.3 L876.7,2816.8 L884.1,2813.9 L891.5,2810.7 L898.7,2807.2 L905.8,2803.5 L912.8,2799.6 L919.7,2795.4 L926.1,2790.7 L932.2,2785.5 L938,2779.9 L943.4,2774 L948.5,2767.8 L953.2,2761.3 L957.9,2754.8 L962.3,2748.1 L966.7,2741.3 L970.7,2734.4 L974.4,2727.3 L977.8,2720.1 L981.1,2712.8 L984.1,2705.3 L987,2697.8 L989.8,2690.3 L992.5,2682.8 L995.1,2675.2 L997.6,2667.5 L999.9,2659.9 L1002.2,2652.2 L1004.4,2644.4 L1006.5,2636.7 L1008.6,2629 L1010.6,2621.2 L1012.6,2613.4 L1014.6,2605.7 L1016.5,2597.9 L1018.4,2590.1 L1020.2,2582.3 L1022,2574.5 L1023.7,2566.6 L1025.4,2558.8 L1027.1,2551 L1028.7,2543.1 L1030.3,2535.3 L1031.8,2527.4 L1033.3,2519.5 L1034.8,2511.6 L1036.2,2503.7 L1037.6,2495.8 L1039,2487.9 L1040.3,2480 L1041.7,2472.1 L1043,2464.2 L1044.4,2456.3 L1045.7,2448.4 L1047,2440.5 L1048.4,2432.6 L1049.7,2424.7 L1051.1,2416.8 L1052.4,2408.9 L1053.8,2401 L1055.2,2393.1 L1056.6,2385.2 L1058,2377.3 L1059.5,2369.4 L1060.9,2361.5 L1062.3,2353.6 L1063.7,2345.7 L1065,2337.8 L1066.4,2329.9 L1067.7,2322 L1069,2314.1 L1070.3,2306.2 L1071.5,2298.3 L1072.7,2290.3 L1074,2282.4 L1075.2,2274.5 L1076.5,2266.6 L1077.9,2258.7 L1079.3,2250.8 L1080.7,2242.9 L1082.2,2235 L1083.8,2227.2 L1085.4,2219.3 L1087.1,2211.5 L1088.9,2203.7 L1090.8,2195.9 L1092.9,2188.1 L1095.1,2180.4 L1097.6,2172.8 L1100.6,2165.3 L1104.4,2158.2 L1109.6,2151.9 L1117.1,2149.7 L1123.9,2152.7 L1128.6,2159.8 L1132,2167 L1135.2,2174.4 L1138.2,2181.9 L1141,2189.4 L1143.6,2197 L1146,2204.6 L1148.4,2212.3 L1150.5,2220 L1152.7,2227.7 L1154.9,2235.4 L1157.1,2243.1 L1159.3,2250.8 L1161.6,2258.5 L1163.9,2266.2 L1166.3,2273.9 L1168.5,2281.6 L1170.6,2289.3 L1172.7,2297 L1174.7,2304.8 L1176.6,2312.6 L1178.6,2320.4 L1180.6,2328.1 L1182.5,2335.9 L1184.4,2343.7 L1186.4,2351.5 L1188.3,2359.3 L1190.3,2367 L1192.3,2374.8 L1194.3,2382.5 L1196.5,2390.3 L1198.6,2398 L1200.8,2405.7 L1203.1,2413.4 L1205.5,2421 L1207.9,2428.7 L1210.5,2436.3 L1213.1,2443.9 L1215.9,2451.4 L1218.8,2458.9 L1221.8,2466.3 L1224.8,2473.7 L1228,2481.1 L1231.2,2488.4 L1234.6,2495.7 L1238.1,2502.9 L1241.8,2510.1 L1245.6,2517.2 L1249.6,2524.1 L1253.9,2530.8 L1258.5,2537.4 L1263.4,2543.8 L1268.6,2550 L1274,2555.8 L1279.8,2561.4 L1285.9,2566.9 L1292.3,2571.9 L1298.9,2576.1 L1306,2579.5 L1313.4,2582.6 L1321.1,2585.2 L1329,2587.4 L1336.8,2588.9 L1344.7,2590.2 L1352.6,2591.2 L1360.6,2592.1 L1368.6,2592.9 L1376.6,2593.6 L1384.6,2594.2 L1392.6,2594.7 L1400.6,2595.1 L1408.7,2595.4 L1416.7,2595.7 L1424.7,2595.9 L1432.7,2596 L1440.7,2595.5 L1448.7,2594.2 L1456.5,2592.5 L1464.2,2590.4 L1471.7,2587.5 L1479,2584 L1486,2580.2 L1492.7,2575.8 L1499.2,2571 L1505.5,2566 L1511.6,2560.9 L1517.6,2555.5 L1523.4,2549.9 L1529.1,2544.3 L1534.7,2538.6 L1540.4,2532.9 L1545.9,2527 L1551.2,2521 L1556.1,2514.7 L1560.7,2508.2 L1565.3,2501.6 L1569.9,2495 L1574.5,2488.5 L1579.1,2481.9 L1583.5,2475.2 L1587.9,2468.5 L1592.3,2461.7 L1596.6,2455 L1601.1,2448.3 L1605.5,2441.7 L1610,2435 L1614.4,2428.3 L1618.8,2421.6 L1623.3,2415 L1627.7,2408.3 L1632.2,2401.6 L1636.6,2394.9 L1641,2388.2 L1645.3,2381.5 L1649.6,2374.7 L1653.8,2367.9 L1658,2361 L1662.1,2354.1 L1666.2,2347.2 L1670.2,2340.3 L1674.1,2333.3 L1677.9,2326.3 L1681.7,2319.2 L1685.4,2312.1 L1689,2304.9 L1692.6,2297.7 L1696.1,2290.5 L1699.5,2283.3 L1702.9,2276 L1706.2,2268.7 L1709.5,2261.4 L1712.7,2254 L1715.8,2246.6 L1718.8,2239.2 L1721.9,2231.8 L1724.8,2224.3 L1727.7,2216.8 L1730.5,2209.3 L1733.3,2201.8 L1736,2194.3 L1738.7,2186.7 L1741.3,2179.1 L1743.9,2171.6 L1746.5,2164 L1749.1,2156.4 L1751.7,2148.8 L1754.2,2141.2 L1756.8,2133.6 L1759.3,2126 L1761.8,2118.3 L1764.3,2110.7 L1766.8,2103.1 L1769.2,2095.5 L1771.6,2087.8 L1774,2080.1 L1776.2,2072.4 L1778.4,2064.7 L1780.5,2057 L1782.6,2049.3 L1784.6,2041.5 L1786.5,2033.7 L1788.3,2025.9 L1790,2018.1 L1791.6,2010.2 L1793.1,2002.3 L1794.8,1994.5 L1796.6,1986.7 L1798.5,1978.9 L1799.5,1975" stroke="#000000" stroke-width="7.6"/>
<path d="M221.5,2812.8 L229.8,2813 L237.8,2812.6 L245.7,2811.7 L253.4,2810 L260.9,2807.5 L268.2,2804.3 L275.4,2800.5 L282.5,2796.7 L289.5,2792.8 L296.4,2788.6 L303.1,2784.3 L309.8,2779.7 L316.3,2775 L322.6,2770.1 L328.8,2765.1 L335,2759.9 L341,2754.6 L347,2749.3 L353,2743.9 L358.9,2738.5 L364.9,2733.1 L370.8,2727.7 L376.8,2722.3 L382.7,2716.9 L388.7,2711.5 L394.6,2706.1 L400.5,2700.7 L406.5,2695.3 L412.5,2690 L418.5,2684.6 L424.5,2679.3 L430.5,2674 L436.6,2668.7 L442.6,2663.5 L448.7,2658.2 L454.7,2652.9 L460.8,2647.7 L466.9,2642.4 L473,2637.2 L479.1,2632 L485.2,2626.8 L491.4,2621.7 L497.6,2616.5 L503.8,2611.4 L510,2606.4 L516.3,2601.4 L522.5,2596.4 L528.9,2591.4 L535.2,2586.5 L541.6,2581.6 L547.9,2576.7 L554.3,2571.8 L560.7,2567 L567.1,2562.1 L573.5,2557.2 L579.8,2552.3 L586.2,2547.4 L592.5,2542.5 L598.9,2537.6 L605.2,2532.7 L611.6,2527.8 L618,2522.9 L624.3,2518 L630.7,2513.1 L637.1,2508.2 L643.4,2503.3 L649.8,2498.4 L656.2,2493.5 L662.5,2488.7 L668.9,2483.8 L675.3,2478.9 L681.7,2474 L688,2469.1 L694.4,2464.3 L700.8,2459.4 L707.2,2454.5 L713.6,2449.6 L719.9,2444.8 L726.3,2439.9 L732.7,2435 L739.1,2430.2 L745.5,2425.3 L751.9,2420.5 L758.3,2415.6 L764.7,2410.8 L771.1,2405.9 L777.5,2401 L783.9,2396.2 L790.3,2391.4 L796.7,2386.5 L803.1,2381.7 L809.5,2376.8 L815.9,2372 L822.3,2367.1 L828.7,2362.3 L835.1,2357.5 L841.5,2352.6 L847.9,2347.8 L854.3,2343 L860.8,2338.2 L867.2,2333.3 L873.6,2328.5 L880,2323.7 L886.4,2318.9 L892.9,2314 L899.3,2309.2 L905.7,2304.4 L912.1,2299.6 L918.6,2294.8 L925,2290 L931.4,2285.2 L937.9,2280.4 L944.3,2275.6 L950.7,2270.8 L957.2,2266 L963.6,2261.2 L970,2256.4 L976.5,2251.6 L982.9,2246.8 L989.4,2242 L995.8,2237.2 L1002.3,2232.4 L1008.7,2227.7 L1015.2,2222.9 L1021.6,2218.1 L1028.1,2213.3 L1034.5,2208.5 L1041,2203.8 L1047.4,2199 L1053.9,2194.2 L1060.3,2189.5 L1066.8,2184.7 L1073.3,2179.9 L1079.7,2175.2 L1086.2,2170.4 L1092.7,2165.6 L1099.1,2160.9 L1105.6,2156.1 L1112.1,2151.4 L1118.5,2146.6 L1125,2141.9 L1131.5,2137.1 L1138,2132.4 L1144.4,2127.7 L1150.9,2122.9 L1157.4,2118.2 L1163.9,2113.4 L1170.4,2108.7 L1176.9,2104 L1183.3,2099.2 L1189.8,2094.5 L1196.3,2089.8 L1202.8,2085.1 L1209.3,2080.3 L1215.8,2075.6 L1222.3,2070.9 L1228.8,2066.2 L1235.3,2061.5 L1241.8,2056.7 L1248.3,2052 L1254.8,2047.3 L1261.3,2042.6 L1267.8,2037.9 L1274.3,2033.2 L1280.8,2028.5 L1287.3,2023.8 L1293.8,2019.1 L1300.3,2014.4 L1306.9,2009.7 L1313.4,2005 L1319.9,2000.3 L1326.4,1995.7 L1332.9,1991 L1339.4,1986.3 L1346,1981.6 L1352.5,1976.9 L1359,1972.3 L1365.5,1967.6 L1372.1,1962.9 L1378.6,1958.2 L1385.1,1953.6 L1391.7,1948.9 L1398.2,1944.2 L1404.7,1939.6 L1411.3,1934.9 L1417.8,1930.3 L1424.4,1925.6 L1430.9,1920.9 L1437.4,1916.3 L1444,1911.6 L1450.5,1907 L1457.1,1902.3 L1463.6,1897.7 L1470.2,1893 L1476.7,1888.4 L1483.3,1883.8 L1489.8,1879.1 L1496.4,1874.5 L1502.9,1869.9 L1509.5,1865.2 L1516.1,1860.6 L1522.6,1856 L1529.2,1851.3 L1535.7,1846.7 L1542.3,1842.1 L1548.9,1837.5 L1555.4,1832.9 L1562,1828.2 L1568.6,1823.6 L1575.2,1819 L1581.7,1814.4 L1588.3,1809.8 L1594.9,1805.2 L1601.5,1800.6 L1608,1796 L1614.6,1791.4 L1621.2,1786.8 L1627.8,1782.2 L1634.4,1777.6 L1641,1773 L1647.6,1768.5 L1654.1,1763.9 L1660.7,1759.3 L1667.3,1754.7 L1673.9,1750.1 L1680.5,1745.6 L1687.1,1741 L1693.7,1736.4 L1700.3,1731.8 L1706.9,1727.3 L1713.5,1722.7 L1720.1,1718.1 L1726.7,1713.6 L1733.3,1709 L1740,1704.5 L1746.6,1699.9 L1753.2,1695.3 L1759.8,1690.8 L1766.4,1686.2 L1773,1681.7 L1779.6,1677.1 L1786.3,1672.6 L1792.9,1668.1 L1799.5,1663.5" stroke="#ff0000" stroke-width="6.9"/>
<path d="M221.5,2793.8 L229.1,2791.3 L235.4,2787.1 L241.4,2782 L247.3,2776.7 L253.7,2771.8 L260.2,2767.3 L266.6,2762.5 L272.8,2757.4 L278.8,2752.1 L284.8,2746.7 L290.8,2741.3 L296.8,2736 L302.8,2730.7 L308.8,2725.4 L314.7,2720 L320.6,2714.6 L326.6,2709.2 L332.6,2703.8 L338.6,2698.5 L344.6,2693.2 L350.6,2687.9 L356.7,2682.7 L362.8,2677.5 L368.9,2672.3 L375.1,2667.2 L381.3,2662.1 L387.5,2657.1 L393.8,2652.1 L400.1,2647.2 L406.4,2642.3 L412.8,2637.4 L419.2,2632.6 L425.7,2627.8 L432.1,2623.1 L438.6,2618.3 L445.1,2613.5 L451.5,2608.8 L458,2604 L464.5,2599.3 L470.9,2594.5 L477.4,2589.8 L483.8,2585 L490.3,2580.2 L496.7,2575.4 L503.1,2570.6 L509.6,2565.8 L516,2561 L522.4,2556.2 L528.8,2551.3 L535.2,2546.5 L541.6,2541.7 L548,2536.8 L554.4,2532 L560.8,2527.2 L567.2,2522.3 L573.6,2517.5 L580,2512.7 L586.4,2507.8 L592.8,2503 L599.2,2498.2 L605.6,2493.3 L612,2488.5 L618.4,2483.7 L624.8,2478.8 L631.2,2474 L637.6,2469.2 L644,2464.4 L650.4,2459.5 L656.8,2454.7 L663.2,2449.9 L669.6,2445 L676,2440.2 L682.4,2435.4 L688.8,2430.5 L695.2,2425.7 L701.6,2420.9 L708,2416.1 L714.4,2411.2 L720.8,2406.4 L727.2,2401.6 L733.6,2396.7 L740,2391.9 L746.4,2387.1 L752.8,2382.2 L759.2,2377.4 L765.6,2372.6 L772,2367.8 L778.4,2362.9 L784.8,2358.1 L791.2,2353.3 L797.6,2348.4 L804,2343.6 L810.4,2338.8 L816.8,2333.9 L823.2,2329.1 L829.6,2324.3 L836,2319.4 L842.4,2314.6 L848.8,2309.8 L855.2,2305 L861.6,2300.1 L868,2295.3 L874.5,2290.5 L880.9,2285.6 L887.3,2280.8 L893.7,2276 L900.1,2271.1 L906.5,2266.3 L912.9,2261.5 L919.3,2256.7 L925.7,2251.8 L932.1,2247 L938.5,2242.2 L944.9,2237.3 L951.3,2232.5 L957.7,2227.7 L964.1,2222.8 L970.5,2218 L976.9,2213.2 L983.3,2208.4 L989.7,2203.5 L996.1,2198.7 L1002.5,2193.9 L1008.9,2189 L1015.3,2184.2 L1021.7,2179.4 L1028.1,2174.5 L1034.5,2169.7 L1040.9,2164.9 L1047.3,2160 L1053.7,2155.2 L1060.1,2150.4 L1066.5,2145.6 L1072.9,2140.7 L1079.3,2135.9 L1085.7,2131.1 L1092.1,2126.2 L1098.5,2121.4 L1104.9,2116.6 L1111.3,2111.7 L1117.7,2106.9 L1124.1,2102.1 L1130.5,2097.3 L1136.9,2092.4 L1143.3,2087.6 L1149.7,2082.8 L1156.1,2077.9 L1162.5,2073.1 L1168.9,2068.3 L1175.3,2063.4 L1181.7,2058.6 L1188.1,2053.8 L1194.5,2049 L1200.9,2044.1 L1207.3,2039.3 L1213.7,2034.5 L1220.1,2029.6 L1226.5,2024.8 L1232.9,2020 L1239.3,2015.1 L1245.8,2010.3 L1252.2,2005.5 L1258.6,2000.6 L1265,1995.8 L1271.4,1991 L1277.8,1986.2 L1284.2,1981.3 L1290.6,1976.5 L1297,1971.7 L1303.4,1966.8 L1309.8,1962 L1316.2,1957.2 L1322.6,1952.3 L1329,1947.5 L1335.4,1942.7 L1341.8,1937.9 L1348.2,1933 L1354.6,1928.2 L1361,1923.4 L1367.4,1918.5 L1373.8,1913.7 L1380.2,1908.9 L1386.6,1904 L1393,1899.2 L1399.4,1894.4 L1405.8,1889.6 L1412.2,1884.7 L1418.6,1879.9 L1425,1875.1 L1431.4,1870.2 L1437.8,1865.4 L1444.2,1860.6 L1450.6,1855.7 L1457,1850.9 L1463.4,1846.1 L1469.8,1841.3 L1476.2,1836.4 L1482.6,1831.6 L1489,1826.8 L1495.4,1821.9 L1501.8,1817.1 L1508.2,1812.3 L1514.6,1807.4 L1521,1802.6 L1527.4,1797.8 L1533.8,1792.9 L1540.2,1788.1 L1546.6,1783.3 L1553,1778.5 L1559.4,1773.6 L1565.8,1768.8 L1572.2,1764 L1578.6,1759.1 L1585,1754.3 L1591.4,1749.5 L1597.8,1744.6 L1604.2,1739.8 L1610.6,1735 L1617.1,1730.2 L1623.5,1725.3 L1629.9,1720.5 L1636.3,1715.7 L1642.7,1710.8 L1649.1,1706 L1655.5,1701.2 L1661.9,1696.3 L1668.3,1691.5 L1674.7,1686.7 L1681.1,1681.9 L1687.5,1677 L1693.9,1672.2 L1700.3,1667.4 L1706.7,1662.5 L1713.1,1657.7 L1719.5,1652.9 L1725.9,1648 L1732.3,1643.2 L1738.7,1638.4 L1745.1,1633.5 L1751.5,1628.7 L1757.9,1623.9 L1764.3,1619.1 L1770.7,1614.2 L1777.1,1609.4 L1783.5,1604.6 L1789.9,1599.7 L1796.3,1594.9 L1799.5,1592.5" stroke="#00ff00" stroke-width="7"/>
<path d="M221.5,2813.7 L1000,2813 L1799.5,2811.5" stroke="#505050" stroke-width="6" stroke-dasharray="21 29.2" stroke-dashoffset="1.1" stroke-linecap="round"/>
<path d="M221.5,2822.3 L229.5,2822.3 L237.5,2822.3 L245.5,2822.3 L253.5,2822.3 L261.6,2822.3 L269.6,2822.3 L277.6,2822.3 L285.6,2822.3 L293.6,2822.3 L301.6,2822.3 L309.6,2822.3 L317.6,2822.3 L325.7,2822.3 L333.7,2822.3 L341.7,2822.3 L349.7,2822.3 L357.7,2822.3 L365.7,2822.3 L373.7,2822.3 L381.7,2822.3 L389.7,2822.3 L397.8,2822.3 L405.8,2822.3 L413.8,2822.3 L421.8,2822.3 L429.8,2822.3 L437.8,2822.3 L445.8,2822.3 L453.8,2822.3 L461.8,2822.3 L469.9,2822.3 L477.9,2822.3 L485.9,2822.3 L493.9,2822.3 L501.9,2822.3 L509.9,2822.3 L517.9,2822.3 L525.9,2822.3 L534,2822.3 L542,2822.3 L550,2822.3 L558,2822.3 L566,2822.3 L574,2822.3 L582,2822.3 L590,2822.3 L598,2822.3 L606.1,2822.3 L614.1,2822.3 L622.1,2822.3 L630.1,2822.3 L638.1,2822.2 L646.1,2822.1 L654.1,2822.1 L662.1,2822 L670.1,2821.9 L678.2,2821.7 L686.2,2821.6 L694.2,2821.5 L702.2,2821.4 L710.2,2821.3 L718.2,2821.2 L726.2,2821.1 L734.2,2821 L742.2,2820.9 L750.2,2820.8 L758.3,2820.7 L766.3,2820.6 L774.3,2820.5 L782.3,2820.5 L790.3,2820.3 L798.3,2820.1 L806.3,2819.9 L814.3,2819.6 L822.4,2819.5 L830.4,2819.3 L838.4,2819 L846.3,2818.2 L854.1,2816.6 L862,2814.7 L869.9,2813.3" stroke="#ef3f3f" stroke-width="6.5" stroke-dasharray="22.5 35.5" stroke-dashoffset="-3.2" stroke-linecap="round"/>
<path d="M869.9,2813.3 L877.9,2812.2 L885.8,2811.1 L893.5,2809.3 L900.9,2806.4 L908.3,2803 L915.8,2800 L923.4,2797.1 L930.5,2793.6 L936.9,2789.2 L942.7,2783.8 L948.4,2777.8 L953.8,2771.8 L959.3,2766 L964.7,2759.9 L969.5,2753.6 L973.7,2746.9 L977.3,2739.8 L980.8,2732.5 L984.1,2725.1 L987.7,2717.9 L991.4,2710.8 L995.1,2703.6 L998.2,2696.3 L1000.6,2688.7 L1002.8,2681 L1004.8,2673.3 L1007.1,2665.5 L1009.6,2658 L1012.3,2650.5 L1015,2642.9 L1017,2635.2 L1018.6,2627.4 L1020.1,2619.6 L1021.6,2611.7 L1023.3,2603.9 L1024.9,2596.1 L1026.5,2588.3 L1028,2580.4 L1029.5,2572.5 L1030.9,2564.6 L1032.5,2556.7 L1034,2548.9 L1035.6,2541 L1037,2533.1 L1038.5,2525.3 L1039.8,2517.4 L1041,2509.5 L1042.2,2501.6 L1043.3,2493.6 L1044.4,2485.7 L1045.4,2477.7 L1046.4,2469.8 L1047.3,2461.8 L1048.3,2453.9 L1049.3,2445.9 L1050.4,2438 L1051.4,2430.1 L1052.5,2422.1 L1053.6,2414.2 L1054.6,2406.2 L1055.7,2398.3 L1056.7,2390.4 L1057.7,2382.4 L1058.7,2374.5 L1059.7,2366.5 L1060.7,2358.6 L1061.7,2350.6 L1062.6,2342.7 L1063.5,2334.7 L1064.5,2326.8 L1065.4,2318.8 L1066.3,2310.8 L1067.2,2302.9 L1068.1,2294.9 L1068.9,2287 L1069.7,2279 L1070.5,2271 L1071.3,2263 L1072.1,2255.1 L1072.8,2247.1 L1073.6,2239.1 L1074.3,2231.1 L1075.1,2223.2 L1075.8,2215.2 L1076.4,2207.2 L1077.1,2199.2 L1077.8,2191.2 L1078.5,2183.3 L1079.2,2175.3 L1079.9,2167.3 L1080.6,2159.3 L1081.4,2151.3 L1082.1,2143.4 L1082.9,2135.4 L1083.7,2127.4 L1084.5,2119.4 L1085.3,2111.5 L1086,2103.5 L1086.8,2095.5 L1087.6,2087.6 L1088.4,2079.6 L1089.2,2071.6 L1090,2063.7 L1090.9,2055.7 L1091.7,2047.7 L1092.6,2039.8 L1093.4,2031.8 L1094.3,2023.8 L1095.2,2015.9 L1096.2,2007.9 L1097.2,2000 L1098.1,1992 L1099.1,1984.1 L1100,1976.1 L1100.9,1968.2 L1101.8,1960.2 L1102.6,1952.2 L1103.4,1944.3 L1104.3,1936.3 L1105.1,1928.4 L1106,1920.4 L1106.8,1912.4 L1107.8,1904.5 L1108.8,1896.5 L1109.8,1888.6 L1110.8,1880.6 L1111.9,1872.7 L1112.9,1864.8 L1114,1856.8 L1115.1,1848.9 L1116.2,1840.9 L1117.3,1833 L1118.5,1825.1 L1119.9,1817.2 L1121.4,1809.3 L1122.9,1801.5 L1124.5,1793.6 L1126.2,1785.8 L1127.9,1778 L1129.7,1770.1 L1131.4,1762.2 L1133.4,1754.4 L1137.6,1747.7 L1143.8,1750.5" stroke="#ef3f3f" stroke-width="6.5" stroke-dasharray="22.5 37.3" stroke-linecap="round"/>
<path d="M1143.8,1750.5 L1148,1757.6 L1151.7,1764.7 L1155.1,1772 L1158.3,1779.4 L1161,1786.9 L1163.3,1794.5 L1165.2,1802.3 L1166.9,1810.2 L1168.3,1818.1 L1169.5,1826 L1170.5,1833.9 L1171.4,1841.9 L1172.5,1849.8 L1173.9,1857.7 L1175.5,1865.6 L1177.1,1873.4 L1178.4,1881.3 L1179.5,1889.3 L1180.6,1897.2 L1181.8,1905.1 L1183.1,1913 L1184.5,1920.9 L1185.8,1928.8 L1187.1,1936.7 L1188.2,1944.7 L1189.3,1952.6 L1190.4,1960.5 L1191.5,1968.4 L1192.6,1976.4 L1193.8,1984.3 L1194.8,1992.2 L1195.9,2000.2 L1196.9,2008.1 L1197.9,2016.1 L1198.9,2024 L1200.1,2031.9 L1201.2,2039.9 L1202.4,2047.8 L1203.6,2055.7 L1204.7,2063.6 L1205.8,2071.6 L1206.9,2079.5 L1208,2087.4 L1209.1,2095.4 L1210.2,2103.3 L1211.2,2111.2 L1212.3,2119.2 L1213.4,2127.1 L1214.5,2135 L1215.6,2143 L1216.8,2150.9 L1218,2158.8 L1219.3,2166.7 L1220.6,2174.6 L1221.9,2182.5 L1223.2,2190.4 L1224.4,2198.3 L1225.7,2206.2 L1226.9,2214.1 L1228.2,2222 L1229.5,2229.9 L1230.8,2237.8 L1232.3,2245.7 L1233.8,2253.5 L1235.4,2261.4 L1236.9,2269.2 L1238.5,2277.1 L1240,2284.9 L1241.6,2292.7 L1243.2,2300.6 L1244.9,2308.4 L1246.6,2316.3 L1248.3,2324.1 L1250,2331.9 L1251.7,2339.7 L1253.5,2347.6 L1255.2,2355.4 L1257.1,2363.2 L1258.9,2370.9 L1260.9,2378.7" stroke="#ef3f3f" stroke-width="6.5" stroke-dasharray="22.5 37.3" stroke-linecap="round"/>
<path d="M1260.9,2378.7 L1263,2386.4 L1265.2,2394.1 L1267.5,2401.8 L1269.8,2409.5 L1272.3,2417.1 L1274.7,2424.7 L1277.3,2432.3 L1279.8,2439.9 L1282.5,2447.5 L1285.3,2455 L1288.1,2462.5 L1291,2470 L1294.1,2477.4 L1297.2,2484.8 L1300.6,2492 L1304.1,2499.2 L1307.9,2506.3 L1311.8,2513.3 L1315.8,2520.2 L1320.1,2527 L1324.6,2533.6 L1329.3,2540.1 L1334.4,2546.2 L1339.6,2552.3 L1344.9,2558.3 L1350.1,2564.4 L1355.4,2570.3 L1361.1,2575.8 L1367.2,2580.8 L1373.6,2585.6 L1380.1,2590.3 L1386.6,2594.9 L1393.2,2599.4 L1399.7,2604.1 L1405.8,2609.2 L1411.7,2614.7 L1417.5,2620.2 L1423.4,2625.6 L1429.5,2630.9 L1435.5,2636.1 L1441.6,2641.4 L1447.5,2646.9 L1453.4,2652.3 L1459.5,2657.4 L1466,2662 L1472.8,2666.3 L1479.8,2670.2 L1487,2673.8 L1494.3,2677.1 L1501.8,2679.9 L1509.4,2682.6 L1517.1,2685.3 L1524.9,2687.1 L1532.8,2687.2 L1540.9,2686.7 L1548.8,2685.9 L1556.6,2684.2 L1564.2,2681.4 L1571.6,2678.1 L1578.7,2674.6 L1585.7,2670.5 L1592.4,2666 L1598.6,2661.1 L1604.4,2655.6 L1610,2649.8 L1615.6,2644 L1621.4,2638.5 L1627.3,2633.1 L1633.2,2627.6 L1639.2,2622.3 L1645.1,2616.9 L1650.9,2611.4 L1656.3,2605.5 L1661.6,2599.4 L1666.8,2593.4 L1672.2,2587.4 L1677.5,2581.5 L1682.9,2575.6 L1688.4,2569.7 L1693.8,2563.8 L1699.1,2557.8 L1704.3,2551.7" stroke="#ef3f3f" stroke-width="6.5" stroke-dasharray="19.7 32.3" stroke-linecap="round"/>
<path d="M1704.3,2551.7 L1709.5,2545.5 L1714.5,2539.4 L1719.5,2533.1 L1724.4,2526.7 L1729.1,2520.2 L1733.5,2513.6 L1737.8,2506.8 L1741.9,2500 L1745.8,2493 L1749.6,2485.9 L1753.1,2478.8 L1756.5,2471.5 L1759.6,2464.1 L1762.6,2456.7 L1765.5,2449.2 L1768.3,2441.7 L1771,2434.2 L1773.6,2426.6 L1776.2,2419 L1778.8,2411.4 L1781.4,2403.8 L1784,2396.3 L1786.8,2388.7 L1789.6,2381.2 L1792.5,2373.8 L1795.3,2366.3 L1798.1,2358.8 L1799.5,2355" stroke="#ef3f3f" stroke-width="6.5" stroke-dasharray="22.5 35.5" stroke-linecap="round"/>
</g>
<text x="222.5" y="2914.5" font-size="52" text-anchor="middle" fill="#000">0</text>
<text x="392.5" y="2914.5" font-size="52" text-anchor="middle" fill="#000">500</text>
<text x="562.5" y="2914.5" font-size="52" text-anchor="middle" fill="#000">1000</text>
<text x="732.5" y="2914.5" font-size="52" text-anchor="middle" fill="#000">1500</text>
<text x="902.5" y="2914.5" font-size="52" text-anchor="middle" fill="#000">2000</text>
<text x="1072.5" y="2914.5" font-size="52" text-anchor="middle" fill="#000">2500</text>
<text x="1242.5" y="2914.5" font-size="52" text-anchor="middle" fill="#000">3000</text>
<text x="1412.5" y="2914.5" font-size="52" text-anchor="middle" fill="#000">3500</text>
<text x="1582.5" y="2914.5" font-size="52" text-anchor="middle" fill="#000">4000</text>
<text x="1752.5" y="2914.5" font-size="52" text-anchor="middle" fill="#000">4500</text>
<text x="196" y="1603.5" font-size="52" text-anchor="end" fill="#000">1400</text>
<text x="196" y="1783.6" font-size="52" text-anchor="end" fill="#000">1200</text>
<text x="196" y="1963.8" font-size="52" text-anchor="end" fill="#000">1000</text>
<text x="196" y="2143.9" font-size="52" text-anchor="end" fill="#000">800</text>
<text x="196" y="2324.1" font-size="52" text-anchor="end" fill="#000">600</text>
<text x="196" y="2504.2" font-size="52" text-anchor="end" fill="#000">400</text>
<text x="196" y="2684.3" font-size="52" text-anchor="end" fill="#000">200</text>
<text x="196" y="2864.5" font-size="52" text-anchor="end" fill="#000">0</text>
<text x="1825.5" y="1603" font-size="52" text-anchor="start" fill="#000">800</text>
<text x="1825.5" y="1760.6" font-size="52" text-anchor="start" fill="#000">700</text>
<text x="1825.5" y="1918.2" font-size="52" text-anchor="start" fill="#000">600</text>
<text x="1825.5" y="2075.9" font-size="52" text-anchor="start" fill="#000">500</text>
<text x="1825.5" y="2233.5" font-size="52" text-anchor="start" fill="#000">400</text>
<text x="1825.5" y="2391.1" font-size="52" text-anchor="start" fill="#000">300</text>
<text x="1825.5" y="2548.7" font-size="52" text-anchor="start" fill="#000">200</text>
<text x="1825.5" y="2706.3" font-size="52" text-anchor="start" fill="#000">100</text>
<text x="1825.5" y="2864" font-size="52" text-anchor="start" fill="#000">0</text>
<text x="2045" y="1668" font-size="52">5×10<tspan font-size="36" dy="-21.9" dx="1">-10</tspan></text>
<text x="2045" y="1905.9" font-size="52">4×10<tspan font-size="36" dy="-21.9" dx="1">-10</tspan></text>
<text x="2045" y="2143.8" font-size="52">3×10<tspan font-size="36" dy="-21.9" dx="1">-10</tspan></text>
<text x="2045" y="2381.7" font-size="52">2×10<tspan font-size="36" dy="-21.9" dx="1">-10</tspan></text>
<text x="2045" y="2619.6" font-size="52">1×10<tspan font-size="36" dy="-21.9" dx="1">-10</tspan></text>
<text x="2045" y="2853.5" font-size="52" text-anchor="start" fill="#000">0</text>
<text x="1011" y="3014.5" font-size="64" text-anchor="middle" fill="#000" xml:space="preserve">Time  /  s</text>
<text transform="translate(68,2219) rotate(-90)" font-size="64" text-anchor="middle" xml:space="preserve">Detector  /  mV</text>
<text transform="translate(1975.5,2215.5) rotate(-90)" font-size="64" text-anchor="middle" xml:space="preserve">Temperature  /  °C</text>
<text transform="translate(2278,2214.5) rotate(-90)" font-size="64" text-anchor="middle" xml:space="preserve">Ion Current / A</text>
<line x1="249" y1="1632.5" x2="378.2" y2="1632.5" stroke="#000000" stroke-width="7" stroke-linecap="round"/>
<text x="394" y="1652" font-size="58.5" xml:space="preserve">Detector</text>
<line x1="249" y1="1704" x2="378.2" y2="1704" stroke="#ff0000" stroke-width="7" stroke-linecap="round"/>
<text x="394" y="1723.5" font-size="58.5" xml:space="preserve">Sample Temperature</text>
<line x1="249" y1="1775.5" x2="378.2" y2="1775.5" stroke="#00ff00" stroke-width="7" stroke-linecap="round"/>
<text x="394" y="1795" font-size="58.5" xml:space="preserve">OvenTemperature</text>
<line x1="249" y1="1847" x2="378.2" y2="1847" stroke="#505050" stroke-width="6" stroke-linecap="round" stroke-dasharray="25.3 37"/>
<text x="394" y="1866.5" font-size="58.5" xml:space="preserve">CO<tspan font-size="39" dy="16">2</tspan><tspan dy="-16">(m/Z=44)</tspan></text>
<line x1="249" y1="1930.5" x2="378.2" y2="1930.5" stroke="#ef3f3f" stroke-width="6" stroke-linecap="round" stroke-dasharray="25.3 37"/>
<text x="394" y="1950" font-size="58.5" xml:space="preserve">H<tspan font-size="39" dy="16">2 </tspan><tspan dy="-16">(m/Z=2)</tspan></text>
</g>
<g id="panel3">
<rect x="1812.3" y="4286.5" width="12" height="15.5" fill="#e0e0e0" stroke="#ff7070" stroke-width="2"/>
<g shape-rendering="crispEdges">
<rect x="230" y="3077" width="1597" height="5" fill="#000"/>
<rect x="230" y="4346" width="1597" height="5" fill="#000"/>
<rect x="230" y="3077" width="5" height="1274" fill="#000"/>
<rect x="1822" y="3077" width="5" height="1274" fill="#000"/>
<rect x="230" y="4325" width="5" height="21" fill="#000"/>
<rect x="230" y="3082" width="5" height="21" fill="#000"/>
<rect x="316" y="4337" width="5" height="9" fill="#000"/>
<rect x="316" y="3082" width="5" height="9" fill="#000"/>
<rect x="402" y="4325" width="5" height="21" fill="#000"/>
<rect x="402" y="3082" width="5" height="21" fill="#000"/>
<rect x="487" y="4337" width="5" height="9" fill="#000"/>
<rect x="487" y="3082" width="5" height="9" fill="#000"/>
<rect x="573" y="4325" width="5" height="21" fill="#000"/>
<rect x="573" y="3082" width="5" height="21" fill="#000"/>
<rect x="659" y="4337" width="5" height="9" fill="#000"/>
<rect x="659" y="3082" width="5" height="9" fill="#000"/>
<rect x="744" y="4325" width="5" height="21" fill="#000"/>
<rect x="744" y="3082" width="5" height="21" fill="#000"/>
<rect x="830" y="4337" width="5" height="9" fill="#000"/>
<rect x="830" y="3082" width="5" height="9" fill="#000"/>
<rect x="916" y="4325" width="5" height="21" fill="#000"/>
<rect x="916" y="3082" width="5" height="21" fill="#000"/>
<rect x="1002" y="4337" width="5" height="9" fill="#000"/>
<rect x="1002" y="3082" width="5" height="9" fill="#000"/>
<rect x="1088" y="4325" width="5" height="21" fill="#000"/>
<rect x="1088" y="3082" width="5" height="21" fill="#000"/>
<rect x="1173" y="4337" width="5" height="9" fill="#000"/>
<rect x="1173" y="3082" width="5" height="9" fill="#000"/>
<rect x="1259" y="4325" width="5" height="21" fill="#000"/>
<rect x="1259" y="3082" width="5" height="21" fill="#000"/>
<rect x="1345" y="4337" width="5" height="9" fill="#000"/>
<rect x="1345" y="3082" width="5" height="9" fill="#000"/>
<rect x="1430" y="4325" width="5" height="21" fill="#000"/>
<rect x="1430" y="3082" width="5" height="21" fill="#000"/>
<rect x="1516" y="4337" width="5" height="9" fill="#000"/>
<rect x="1516" y="3082" width="5" height="9" fill="#000"/>
<rect x="1602" y="4325" width="5" height="21" fill="#000"/>
<rect x="1602" y="3082" width="5" height="21" fill="#000"/>
<rect x="1688" y="4337" width="5" height="9" fill="#000"/>
<rect x="1688" y="3082" width="5" height="9" fill="#000"/>
<rect x="1774" y="4325" width="5" height="21" fill="#000"/>
<rect x="1774" y="3082" width="5" height="21" fill="#000"/>
<rect x="235" y="3077" width="9" height="5" fill="#000"/>
<rect x="235" y="3175" width="21" height="5" fill="#000"/>
<rect x="235" y="3272" width="9" height="5" fill="#000"/>
<rect x="235" y="3370" width="21" height="5" fill="#000"/>
<rect x="235" y="3468" width="9" height="5" fill="#000"/>
<rect x="235" y="3565" width="21" height="5" fill="#000"/>
<rect x="235" y="3663" width="9" height="5" fill="#000"/>
<rect x="235" y="3761" width="21" height="5" fill="#000"/>
<rect x="235" y="3858" width="9" height="5" fill="#000"/>
<rect x="235" y="3956" width="21" height="5" fill="#000"/>
<rect x="235" y="4053" width="9" height="5" fill="#000"/>
<rect x="235" y="4151" width="21" height="5" fill="#000"/>
<rect x="235" y="4249" width="9" height="5" fill="#000"/>
<rect x="235" y="4346" width="21" height="5" fill="#000"/>
<rect x="1800" y="3077" width="22" height="5" fill="#000"/>
<rect x="1812" y="3144" width="10" height="5" fill="#000"/>
<rect x="1800" y="3211" width="22" height="5" fill="#000"/>
<rect x="1812" y="3277" width="10" height="5" fill="#000"/>
<rect x="1800" y="3344" width="22" height="5" fill="#000"/>
<rect x="1812" y="3411" width="10" height="5" fill="#000"/>
<rect x="1800" y="3478" width="22" height="5" fill="#000"/>
<rect x="1812" y="3545" width="10" height="5" fill="#000"/>
<rect x="1800" y="3611" width="22" height="5" fill="#000"/>
<rect x="1812" y="3678" width="10" height="5" fill="#000"/>
<rect x="1800" y="3745" width="22" height="5" fill="#000"/>
<rect x="1812" y="3812" width="10" height="5" fill="#000"/>
<rect x="1800" y="3879" width="22" height="5" fill="#000"/>
<rect x="1812" y="3945" width="10" height="5" fill="#000"/>
<rect x="1800" y="4012" width="22" height="5" fill="#000"/>
<rect x="1812" y="4079" width="10" height="5" fill="#000"/>
<rect x="1800" y="4146" width="22" height="5" fill="#000"/>
<rect x="1812" y="4213" width="10" height="5" fill="#000"/>
<rect x="1800" y="4279" width="22" height="5" fill="#000"/>
<rect x="1812" y="4346" width="10" height="5" fill="#000"/>
<rect x="2061" y="3077" width="4" height="1274" fill="#000"/>
<rect x="2039" y="3137" width="22" height="4" fill="#000"/>
<rect x="2051" y="3257" width="10" height="4" fill="#000"/>
<rect x="2039" y="3377" width="22" height="4" fill="#000"/>
<rect x="2051" y="3496" width="10" height="4" fill="#000"/>
<rect x="2039" y="3616" width="22" height="4" fill="#000"/>
<rect x="2051" y="3736" width="10" height="4" fill="#000"/>
<rect x="2039" y="3856" width="22" height="4" fill="#000"/>
<rect x="2051" y="3976" width="10" height="4" fill="#000"/>
<rect x="2039" y="4095" width="22" height="4" fill="#000"/>
<rect x="2051" y="4215" width="10" height="4" fill="#000"/>
<rect x="2039" y="4335" width="22" height="4" fill="#000"/>
</g>
<path d="M251.6,3470V3083.1H960" fill="none" stroke="#fff" stroke-width="2" shape-rendering="crispEdges"/>
<clipPath id="c3"><rect x="231.5" y="3077" width="1590.5" height="1274"/></clipPath>
<g clip-path="url(#c3)" fill="none" stroke-linejoin="round">
<path d="M231.5,4344.7 L239.5,4345.3 L247.5,4345.9 L255.5,4346.3 L263.5,4346.7 L271.5,4346.9 L279.5,4347 L287.6,4346.9 L295.6,4346.7 L303.6,4346.5 L311.6,4346.2 L319.6,4345.8 L327.6,4345.3 L335.6,4344.7 L343.6,4344.1 L351.6,4343.4 L359.6,4342.8 L367.6,4342.2 L375.6,4341.6 L383.6,4341 L391.6,4340.5 L399.6,4340 L407.6,4339.5 L415.6,4339.1 L423.6,4338.8 L431.6,4338.5 L439.6,4338.2 L447.6,4338 L455.6,4337.7 L463.6,4337.5 L471.7,4337.3 L479.7,4337.1 L487.7,4336.9 L495.7,4336.7 L503.7,4336.4 L511.7,4336.2 L519.8,4335.9 L527.8,4335.6 L535.8,4335.2 L543.8,4334.7 L551.8,4334.1 L559.8,4333.4 L567.7,4332.7 L575.7,4332 L583.7,4331.2 L591.7,4330.4 L599.6,4329.5 L607.6,4328.7 L615.6,4327.9 L623.6,4327.1 L631.5,4326.4 L639.5,4325.6 L647.5,4324.9 L655.5,4324.3 L663.5,4323.6 L671.5,4323 L679.5,4322.4 L687.5,4321.7 L695.4,4321 L703.4,4320.3 L711.4,4319.5 L719.4,4318.8 L727.4,4318 L735.3,4317.2 L743.3,4316.5 L751.3,4315.8 L759.3,4315.1 L767.3,4314.5 L775.3,4313.9 L783.3,4313.3 L791.3,4312.7 L799.3,4312 L807.3,4311.3 L815.3,4310.3 L823.2,4309.3 L831.1,4308 L839,4306.6 L846.8,4304.9 L854.5,4303 L862.2,4300.7 L869.8,4298.1 L877.3,4295.3 L884.8,4292.5 L892.3,4289.6 L899.7,4286.6 L907.1,4283.5 L914.6,4280.6 L922.1,4277.8 L929.7,4275.2 L937.4,4272.7 L944.9,4270 L952.3,4267 L959.6,4263.6 L966.6,4259.7 L973.4,4255.5 L979.9,4250.7 L986,4245.6 L991.7,4239.9 L996.9,4233.7 L1001.6,4227.3 L1005.8,4220.5 L1009.7,4213.4 L1013.3,4206.3 L1016.7,4199 L1019.9,4191.6 L1022.9,4184.2 L1025.6,4176.7 L1028.2,4169.1 L1030.7,4161.4 L1033.1,4153.8 L1035.3,4146.1 L1037.5,4138.4 L1039.6,4130.6 L1041.7,4122.9 L1043.7,4115.1 L1045.8,4107.4 L1047.7,4099.6 L1049.4,4091.8 L1050.9,4083.9 L1052.5,4076 L1054,4068.2 L1055.5,4060.3 L1057,4052.4 L1058.5,4044.5 L1060,4036.7 L1061.5,4028.8 L1063,4020.9 L1064.5,4013.1 L1066.2,4005.2 L1067.8,3997.4 L1069.5,3989.5 L1071.1,3981.7 L1072.8,3973.8 L1074.5,3966 L1076.1,3958.1 L1077.8,3950.3 L1079.4,3942.4 L1081.1,3934.6 L1082.8,3926.8 L1084.5,3918.9 L1086.3,3911.1 L1088.1,3903.3 L1090.1,3895.5 L1092.1,3887.8 L1094.2,3880 L1096.4,3872.3 L1098.8,3864.7 L1101.4,3857.1 L1104.2,3849.6 L1107.3,3842.2 L1110.5,3834.9 L1114.1,3827.7 L1117.9,3820.6 L1121.8,3813.6 L1125.8,3806.6 L1129.7,3799.6 L1133.8,3792.7 L1138,3785.9 L1142.2,3778.9 L1146.7,3772.3 L1151.9,3766.3 L1158.2,3761.1 L1165.3,3757.5 L1173,3755.4 L1181.1,3755.1 L1189,3755.9 L1196.9,3757.5 L1204.6,3759.9 L1212,3762.8 L1219.2,3766.2 L1226.4,3769.9 L1233.6,3773.5 L1240.9,3776.9 L1248.1,3780.4 L1255.4,3783.8 L1262.8,3786.9 L1270.3,3789.5 L1278,3792 L1285.7,3794.2 L1293.5,3796.1 L1301.4,3797.5 L1309.3,3798.7 L1317.3,3799.7 L1325.3,3800.4 L1333.3,3800.7 L1341.3,3800.5 L1349.4,3799.9 L1357.4,3799.1 L1365.3,3798.1 L1373,3796.5 L1380.7,3794.3 L1388.3,3791.4 L1395.8,3788.4 L1403.2,3785.2 L1410.4,3781.8 L1417.6,3778.1 L1424.6,3774.3 L1431.7,3770.4 L1438.7,3766.3 L1445.5,3762 L1451.9,3757.4 L1458,3752.4 L1463.8,3747 L1469.4,3741.2 L1474.8,3735.3 L1480.1,3729.1 L1485.2,3722.9 L1490.2,3716.7 L1495,3710.2 L1499.8,3703.7 L1504.5,3697.2 L1509.2,3690.7 L1513.9,3684.2 L1518.5,3677.6 L1523,3671 L1527.4,3664.3 L1531.8,3657.6 L1536.1,3650.9 L1540.4,3644.1 L1544.6,3637.2 L1548.8,3630.4 L1552.8,3623.5 L1556.9,3616.6 L1560.8,3609.6 L1564.7,3602.6 L1568.6,3595.5 L1572.4,3588.5 L1576.1,3581.4 L1579.9,3574.3 L1583.5,3567.2 L1587.2,3560 L1590.8,3552.9 L1594.4,3545.7 L1598,3538.5 L1601.5,3531.3 L1605,3524.1 L1608.5,3516.9 L1612,3509.7 L1615.4,3502.4 L1618.8,3495.2 L1622.1,3487.9 L1625.4,3480.6 L1628.6,3473.2 L1631.8,3465.9 L1634.8,3458.5 L1637.9,3451 L1640.9,3443.6 L1643.9,3436.2 L1646.9,3428.7 L1649.8,3421.3 L1652.8,3413.9 L1655.9,3406.4 L1658.9,3399 L1662,3391.6 L1665,3384.2 L1668.1,3376.8 L1671.2,3369.4 L1674.2,3361.9 L1677.2,3354.5 L1680.2,3347.1 L1683.2,3339.6 L1686.1,3332.2 L1688.9,3324.7 L1691.7,3317.2 L1694.5,3309.6 L1697.3,3302.1 L1700,3294.6 L1702.6,3287 L1705.3,3279.4 L1707.9,3271.9 L1710.5,3264.3 L1713,3256.7 L1715.6,3249.1 L1718.1,3241.5 L1720.6,3233.9 L1723.2,3226.2 L1725.7,3218.6 L1728.2,3211 L1730.7,3203.4 L1733.3,3195.8 L1735.8,3188.2 L1738.4,3180.6 L1740.9,3173 L1743.5,3165.4 L1746,3157.8 L1748.6,3150.2 L1751.1,3142.6 L1753.5,3134.9 L1755.9,3127.3 L1758.3,3119.6 L1760.6,3112 L1762.9,3104.3 L1765.2,3096.6 L1767.4,3088.9 L1769.6,3081.2 L1771.7,3073.5 L1773.9,3065.7 L1776,3058" stroke="#000000" stroke-width="6.7"/>
<path d="M231.5,4251.9 L239.6,4251.9 L247.6,4251.5 L255.6,4250.7 L263.4,4249.3 L271.2,4247.3 L278.8,4244.7 L286.2,4241.7 L293.6,4238.4 L300.8,4234.8 L307.9,4231.1 L314.8,4227.1 L321.5,4222.7 L328.1,4218.2 L334.7,4213.5 L341.1,4208.7 L347.5,4203.8 L353.8,4198.8 L360.1,4193.8 L366.4,4188.8 L372.7,4183.8 L379,4178.9 L385.4,4174 L391.8,4169.2 L398.2,4164.3 L404.6,4159.4 L411,4154.6 L417.4,4149.8 L423.8,4145 L430.3,4140.3 L436.8,4135.5 L443.3,4130.8 L449.8,4126.1 L456.3,4121.4 L462.8,4116.7 L469.3,4112 L475.8,4107.3 L482.3,4102.6 L488.9,4097.9 L495.4,4093.3 L501.9,4088.6 L508.5,4084 L515,4079.3 L521.6,4074.7 L528.2,4070.1 L534.8,4065.5 L541.4,4061 L548,4056.5 L554.7,4052 L561.4,4047.6 L568.1,4043.2 L574.8,4038.8 L581.5,4034.4 L588.2,4030 L594.9,4025.6 L601.7,4021.2 L608.4,4016.8 L615.1,4012.3 L621.8,4007.9 L628.5,4003.5 L635.2,3999.1 L641.9,3994.7 L648.6,3990.3 L655.3,3985.8 L662,3981.4 L668.7,3977 L675.4,3972.6 L682.1,3968.2 L688.8,3963.8 L695.6,3959.4 L702.3,3955 L709,3950.6 L715.7,3946.3 L722.5,3941.9 L729.2,3937.5 L735.9,3933.1 L742.6,3928.7 L749.4,3924.4 L756.1,3920 L762.8,3915.6 L769.6,3911.2 L776.3,3906.9 L783,3902.5 L789.8,3898.1 L796.5,3893.8 L803.2,3889.4 L810,3885 L816.7,3880.7 L823.5,3876.3 L830.2,3872 L837,3867.6 L843.7,3863.3 L850.5,3858.9 L857.2,3854.6 L864,3850.2 L870.7,3845.9 L877.5,3841.6 L884.2,3837.2 L891,3832.9 L897.7,3828.6 L904.5,3824.3 L911.3,3819.9 L918,3815.6 L924.8,3811.3 L931.6,3807 L938.3,3802.7 L945.1,3798.4 L951.9,3794.1 L958.7,3789.7 L965.4,3785.4 L972.2,3781.1 L979,3776.8 L985.8,3772.5 L992.6,3768.3 L999.3,3764 L1006.1,3759.7 L1012.9,3755.4 L1019.7,3751.1 L1026.5,3746.8 L1033.3,3742.5 L1040.1,3738.3 L1046.9,3734 L1053.7,3729.7 L1060.5,3725.4 L1067.3,3721.2 L1074.1,3716.9 L1080.9,3712.6 L1087.7,3708.4 L1094.5,3704.1 L1101.3,3699.9 L1108.1,3695.6 L1114.9,3691.4 L1121.7,3687.1 L1128.5,3682.9 L1135.3,3678.6 L1142.2,3674.4 L1149,3670.2 L1155.8,3665.9 L1162.6,3661.7 L1169.4,3657.5 L1176.3,3653.2 L1183.1,3649 L1189.9,3644.8 L1196.7,3640.6 L1203.6,3636.3 L1210.4,3632.1 L1217.2,3627.9 L1224.1,3623.7 L1230.9,3619.5 L1237.7,3615.3 L1244.6,3611.1 L1251.4,3606.9 L1258.3,3602.7 L1265.1,3598.5 L1272,3594.3 L1278.8,3590.1 L1285.7,3585.9 L1292.5,3581.7 L1299.4,3577.5 L1306.2,3573.4 L1313.1,3569.2 L1319.9,3565 L1326.8,3560.8 L1333.6,3556.7 L1340.5,3552.5 L1347.4,3548.3 L1354.2,3544.2 L1361.1,3540 L1367.9,3535.8 L1374.8,3531.7 L1381.7,3527.5 L1388.6,3523.4 L1395.4,3519.2 L1402.3,3515.1 L1409.2,3510.9 L1416.1,3506.8 L1422.9,3502.7 L1429.8,3498.5 L1436.7,3494.4 L1443.6,3490.3 L1450.5,3486.1 L1457.3,3482 L1464.2,3477.9 L1471.1,3473.8 L1478,3469.6 L1484.9,3465.5 L1491.8,3461.4 L1498.7,3457.3 L1505.6,3453.2 L1512.5,3449.1 L1519.4,3445 L1526.3,3440.9 L1533.2,3436.8 L1540.1,3432.7 L1547,3428.6 L1553.9,3424.5 L1560.8,3420.4 L1567.7,3416.4 L1574.7,3412.3 L1581.6,3408.2 L1588.5,3404.1 L1595.4,3400 L1602.3,3396 L1609.2,3391.9 L1616.2,3387.8 L1623.1,3383.8 L1630,3379.7 L1636.9,3375.7 L1643.9,3371.6 L1650.8,3367.5 L1657.7,3363.5 L1664.7,3359.4 L1671.6,3355.4 L1678.5,3351.3 L1685.5,3347.3 L1692.4,3343.3 L1699.3,3339.2 L1706.3,3335.2 L1713.2,3331.2 L1720.1,3327.1 L1727.1,3323.1 L1734,3319.1 L1741,3315.1 L1747.9,3311 L1754.9,3307 L1761.8,3303 L1768.8,3299 L1775.8,3295 L1782.7,3291 L1789.7,3287 L1796.6,3283 L1803.6,3279 L1810.6,3275 L1817.5,3271 L1824.5,3267" stroke="#ff0000" stroke-width="6.7"/>
<path d="M231.5,4234.4 L239.5,4232.9 L246.2,4229.3 L252.4,4224.5 L258.5,4219.3 L265,4214.6 L271.8,4210.4 L278.4,4206 L284.8,4201.2 L291,4196.1 L297.1,4190.8 L303.3,4185.8 L309.7,4180.9 L316.2,4176.2 L322.8,4171.6 L329.4,4167 L336,4162.5 L342.6,4158 L349.3,4153.6 L356.1,4149.3 L362.9,4145.1 L369.7,4140.8 L376.5,4136.6 L383.3,4132.3 L390.1,4128.1 L396.9,4123.8 L403.7,4119.5 L410.5,4115.3 L417.3,4111 L424,4106.6 L430.8,4102.3 L437.5,4098 L444.3,4093.7 L451.1,4089.4 L457.8,4085.1 L464.6,4080.7 L471.3,4076.4 L478.1,4072.1 L484.9,4067.8 L491.6,4063.5 L498.4,4059.2 L505.2,4054.9 L511.9,4050.6 L518.7,4046.3 L525.5,4042 L532.2,4037.6 L539,4033.3 L545.8,4029 L552.5,4024.7 L559.3,4020.4 L566.1,4016.1 L572.8,4011.8 L579.6,4007.5 L586.4,4003.2 L593.1,3998.9 L599.9,3994.6 L606.7,3990.3 L613.4,3986 L620.2,3981.6 L627,3977.3 L633.7,3973 L640.5,3968.7 L647.2,3964.4 L654,3960.1 L660.8,3955.8 L667.5,3951.5 L674.3,3947.2 L681.1,3942.9 L687.8,3938.6 L694.6,3934.3 L701.4,3930 L708.1,3925.7 L714.9,3921.3 L721.7,3917 L728.4,3912.7 L735.2,3908.4 L742,3904.1 L748.7,3899.8 L755.5,3895.5 L762.3,3891.2 L769,3886.9 L775.8,3882.6 L782.6,3878.3 L789.3,3874 L796.1,3869.7 L802.9,3865.3 L809.6,3861 L816.4,3856.7 L823.2,3852.4 L829.9,3848.1 L836.7,3843.8 L843.5,3839.5 L850.2,3835.2 L857,3830.9 L863.8,3826.6 L870.5,3822.3 L877.3,3818 L884.1,3813.7 L890.8,3809.4 L897.6,3805 L904.3,3800.7 L911.1,3796.4 L917.9,3792.1 L924.6,3787.8 L931.4,3783.5 L938.2,3779.2 L944.9,3774.9 L951.7,3770.6 L958.5,3766.3 L965.2,3762 L972,3757.7 L978.8,3753.4 L985.5,3749 L992.3,3744.7 L999.1,3740.4 L1005.8,3736.1 L1012.6,3731.8 L1019.4,3727.5 L1026.1,3723.2 L1032.9,3718.9 L1039.7,3714.6 L1046.4,3710.3 L1053.2,3706 L1060,3701.7 L1066.7,3697.4 L1073.5,3693 L1080.3,3688.7 L1087,3684.4 L1093.8,3680.1 L1100.6,3675.8 L1107.3,3671.5 L1114.1,3667.2 L1120.9,3662.9 L1127.6,3658.6 L1134.4,3654.3 L1141.2,3650 L1147.9,3645.7 L1154.7,3641.4 L1161.4,3637.1 L1168.2,3632.7 L1175,3628.4 L1181.7,3624.1 L1188.5,3619.8 L1195.3,3615.5 L1202,3611.2 L1208.8,3606.9 L1215.6,3602.6 L1222.3,3598.3 L1229.1,3594 L1235.9,3589.7 L1242.6,3585.4 L1249.4,3581.1 L1256.2,3576.7 L1262.9,3572.4 L1269.7,3568.1 L1276.5,3563.8 L1283.2,3559.5 L1290,3555.2 L1296.8,3550.9 L1303.5,3546.6 L1310.3,3542.3 L1317.1,3538 L1323.8,3533.7 L1330.6,3529.4 L1337.4,3525.1 L1344.1,3520.7 L1350.9,3516.4 L1357.7,3512.1 L1364.4,3507.8 L1371.2,3503.5 L1378,3499.2 L1384.7,3494.9 L1391.5,3490.6 L1398.3,3486.3 L1405,3482 L1411.8,3477.7 L1418.6,3473.4 L1425.3,3469.1 L1432.1,3464.8 L1438.8,3460.4 L1445.6,3456.1 L1452.4,3451.8 L1459.1,3447.5 L1465.9,3443.2 L1472.7,3438.9 L1479.4,3434.6 L1486.2,3430.3 L1493,3426 L1499.7,3421.7 L1506.5,3417.4 L1513.3,3413.1 L1520,3408.8 L1526.8,3404.4 L1533.6,3400.1 L1540.3,3395.8 L1547.1,3391.5 L1553.9,3387.2 L1560.6,3382.9 L1567.4,3378.6 L1574.2,3374.3 L1580.9,3370 L1587.7,3365.7 L1594.5,3361.4 L1601.2,3357.1 L1608,3352.8 L1614.8,3348.4 L1621.5,3344.1 L1628.3,3339.8 L1635.1,3335.5 L1641.8,3331.2 L1648.6,3326.9 L1655.4,3322.6 L1662.1,3318.3 L1668.9,3314 L1675.7,3309.7 L1682.4,3305.4 L1689.2,3301.1 L1695.9,3296.8 L1702.7,3292.5 L1709.5,3288.1 L1716.2,3283.8 L1723,3279.5 L1729.8,3275.2 L1736.5,3270.9 L1743.3,3266.6 L1750.1,3262.3 L1756.8,3258 L1763.6,3253.7 L1770.4,3249.4 L1777.1,3245.1 L1783.9,3240.8 L1790.7,3236.5 L1797.4,3232.1 L1804.2,3227.8 L1811,3223.5 L1817.7,3219.2 L1824.5,3214.9" stroke="#00ff00" stroke-width="6.9"/>
<path d="M231.5,4313.7 L1000,4313.7 L1824.5,4312.5" stroke="#000000" stroke-width="5.3" stroke-dasharray="21.7 30.3" stroke-dashoffset="0.6" stroke-linecap="round"/>
<path d="M231.5,4319.7 L239.5,4319.7 L247.5,4319.7 L255.6,4319.7 L263.6,4319.7 L271.6,4319.7 L279.6,4319.7 L287.6,4319.7 L295.6,4319.7 L303.7,4319.7 L311.7,4319.7 L319.7,4319.7 L327.7,4319.7 L335.7,4319.7 L343.7,4319.7 L351.8,4319.7 L359.8,4319.7 L367.8,4319.7 L375.8,4319.7 L383.8,4319.7 L391.8,4319.7 L399.9,4319.7 L407.9,4319.7 L415.9,4319.7 L423.9,4319.7 L431.9,4319.7 L440,4319.7 L448,4319.7 L456,4319.7 L464,4319.7 L472,4319.7 L480,4319.7 L488.1,4319.8 L496.1,4319.8 L504.1,4319.8 L512.1,4319.8 L520.1,4319.8 L528.2,4319.8 L536.2,4319.8 L544.2,4319.9 L552.2,4319.9 L560.2,4319.9 L568.2,4319.9 L576.3,4320 L584.3,4320 L592.3,4320 L600.3,4320 L608.3,4320.1 L616.3,4320.2 L624.4,4320.3 L632.4,4320.4 L640.4,4320.5 L648.4,4320.5 L656.4,4320.6 L664.4,4320.6 L672.4,4320.7 L680.5,4320.7 L688.5,4320.7 L696.5,4320.7 L704.5,4320.7 L712.5,4320.6 L720.5,4320.5 L728.5,4320.4 L736.6,4320.3 L744.6,4320.1 L752.6,4319.9 L760.6,4319.8 L768.6,4319.7 L776.6,4319.5 L784.7,4319.4 L792.7,4319.2 L800.7,4318.9 L808.7,4318.6 L816.7,4318.3 L824.7,4317.9 L832.7,4317.4 L840.7,4316.8 L848.7,4316.2 L856.7,4315.5 L864.7,4314.7 L872.6,4313.7 L880.6,4312.7 L888.5,4311.4 L896.4,4310.1 L904.3,4308.8 L912.2,4307.6 L920.1,4306.3 L928,4304.8 L935.9,4303.2 L943.7,4301.6 L951.6,4299.8 L959.3,4297.9 L967.2,4296.2 L975.1,4295 L983.1,4293.9 L991,4292.5 L999,4290.7 L1006.8,4288.4 L1013.7,4285.1 L1019.8,4279.8 L1024.8,4273.5 L1029,4266.6 L1032.6,4259.4" stroke="#ff0000" stroke-width="6" stroke-dasharray="22 33.7" stroke-dashoffset="-3" stroke-linecap="round"/>
<path d="M1032.6,4259.4 L1036,4252.2 L1039.2,4244.7 L1041.9,4237.2 L1044.1,4229.5 L1045.9,4221.7 L1047.6,4213.9 L1049.3,4206 L1051.3,4198.2 L1053.5,4190.5 L1055.7,4182.8 L1057.5,4175 L1059,4167.1 L1060.3,4159.2 L1061.6,4151.3 L1063.1,4143.4 L1064.7,4135.6 L1066.3,4127.7 L1067.9,4119.9 L1069.4,4112 L1070.8,4104.1 L1072.3,4096.2 L1073.9,4088.4 L1075.5,4080.6 L1077.2,4072.7 L1078.8,4064.9 L1080.5,4057 L1082.1,4049.2 L1083.8,4041.4 L1085.4,4033.5 L1087,4025.7 L1088.6,4017.8 L1090.2,4010 L1091.9,4002.1 L1093.5,3994.3 L1095.2,3986.5 L1096.8,3978.6 L1098.5,3970.8 L1100.2,3963 L1102.1,3955.2 L1104.1,3947.4 L1106.1,3939.6 L1108.2,3931.9 L1110.3,3924.2 L1112.4,3916.4 L1114.6,3908.7 L1116.8,3901 L1119,3893.3 L1121.4,3885.6 L1123.8,3878 L1126.4,3870.4 L1129,3862.8 L1131.7,3855.2 L1134.4,3847.6 L1137.5,3840.3 L1141.6,3833.5 L1146.4,3827 L1151.4,3820.6 L1156.7,3814 L1162.9,3809.6 L1170.7,3807.4 L1178.4,3807.7" stroke="#ff0000" stroke-width="6" stroke-dasharray="22 35.7" stroke-linecap="round"/>
<path d="M1178.4,3807.7 L1185.5,3811.9 L1192.5,3816.2 L1199.5,3820.2 L1206,3824.8 L1211.8,3830.2 L1217.3,3836.1 L1222.6,3842.2 L1227.5,3848.5 L1232.5,3854.8 L1237.6,3861 L1243,3866.9 L1248.4,3872.9 L1253.7,3878.8 L1259.1,3884.8 L1264.3,3890.9 L1269.3,3897.1 L1274.4,3903.4 L1279.8,3909.2 L1285.8,3914.5 L1291.5,3920.1 L1296.8,3926 L1302,3932.1 L1307.4,3938 L1313,3943.8 L1318.6,3949.5 L1324.2,3955.2 L1329.8,3960.9 L1335.3,3966.8 L1340.7,3972.6 L1346.2,3978.5 L1351.8,3984.2 L1357.4,3989.9 L1363,3995.7 L1368.6,4001.4 L1374.2,4007.2 L1379.8,4012.9 L1385.5,4018.5 L1391.2,4024 L1397.1,4029.5 L1402.9,4035 L1408.8,4040.4 L1414.9,4045.6 L1421.2,4050.7 L1427.5,4055.6 L1433.9,4060.4 L1440.3,4065.3 L1446.7,4070.1 L1453,4075 L1459.4,4079.7 L1466.2,4084 L1473.2,4087.9 L1480.3,4091.8 L1487.3,4095.6 L1494.5,4099.2 L1501.8,4102.5 L1509.2,4105.6 L1516.6,4108.7 L1524,4111.8 L1531.6,4114.2 L1539.4,4115.8 L1547.3,4117.4 L1555.1,4119.3 L1562.9,4121.4 L1570.8,4122.1 L1578.8,4122.5 L1586.9,4122.7 L1594.9,4122.5 L1602.9,4121.8 L1610.7,4120.5 L1618.4,4118 L1626,4115.5 L1633.5,4112.6 L1640.8,4109.3 L1648,4105.6 L1654.9,4101.6" stroke="#ff0000" stroke-width="6" stroke-dasharray="13.5 28" stroke-linecap="round"/>
<path d="M1654.9,4101.6 L1661.7,4097.2 L1668.1,4092.5 L1674,4087.1 L1679.4,4081.2 L1684.6,4075 L1689.6,4068.7 L1694.4,4062.3 L1698.9,4055.7 L1703.1,4048.8 L1706.9,4041.8 L1710.7,4034.7 L1714.4,4027.6 L1718.1,4020.5 L1721.7,4013.3 L1725.3,4006.2 L1729,3999 L1732.4,3991.8 L1735.5,3984.4 L1738.5,3977 L1741.4,3969.5 L1744.1,3962 L1746.7,3954.4 L1749.2,3946.8 L1751.7,3939.1 L1754,3931.5 L1756.3,3923.8 L1758.5,3916 L1760.6,3908.3 L1762.7,3900.6 L1764.7,3892.8 L1766.8,3885.1 L1768.9,3877.3 L1770.9,3869.6 L1772.8,3861.8 L1774.8,3854 L1776.7,3846.2 L1778.5,3838.4 L1780.4,3830.6 L1782.2,3822.8 L1784,3815 L1785.7,3807.2 L1787.4,3799.4 L1789,3791.5 L1790.6,3783.7 L1792.1,3775.8 L1793.6,3767.9 L1794.9,3760 L1796.3,3752.1 L1797.5,3744.2 L1798.7,3736.3 L1800,3728.4 L1801.3,3720.5 L1802.6,3712.6 L1803.8,3704.7 L1805,3696.7 L1806.2,3688.8 L1807.4,3680.9 L1808.7,3673 L1810.2,3665.1 L1811.7,3657.2 L1813.1,3649.4 L1814.4,3641.4 L1815.5,3633.5 L1816.6,3625.6 L1817.7,3617.6 L1818.8,3609.7 L1819.8,3601.7 L1820.9,3593.8 L1822.1,3585.8 L1823.3,3577.9 L1824.5,3570" stroke="#ff0000" stroke-width="6" stroke-dasharray="22 33.7" stroke-linecap="round"/>
</g>
<text x="232.5" y="4413.5" font-size="52.5" text-anchor="middle" fill="#000">0</text>
<text x="404" y="4413.5" font-size="52.5" text-anchor="middle" fill="#000">500</text>
<text x="575.5" y="4413.5" font-size="52.5" text-anchor="middle" fill="#000">1000</text>
<text x="747" y="4413.5" font-size="52.5" text-anchor="middle" fill="#000">1500</text>
<text x="918.5" y="4413.5" font-size="52.5" text-anchor="middle" fill="#000">2000</text>
<text x="1090" y="4413.5" font-size="52.5" text-anchor="middle" fill="#000">2500</text>
<text x="1261.5" y="4413.5" font-size="52.5" text-anchor="middle" fill="#000">3000</text>
<text x="1433" y="4413.5" font-size="52.5" text-anchor="middle" fill="#000">3500</text>
<text x="1604.5" y="4413.5" font-size="52.5" text-anchor="middle" fill="#000">4000</text>
<text x="1776" y="4413.5" font-size="52.5" text-anchor="middle" fill="#000">4500</text>
<text x="205.5" y="3191.8" font-size="52.5" text-anchor="end" fill="#000">1200</text>
<text x="205.5" y="3387" font-size="52.5" text-anchor="end" fill="#000">1000</text>
<text x="205.5" y="3582.3" font-size="52.5" text-anchor="end" fill="#000">800</text>
<text x="205.5" y="3777.6" font-size="52.5" text-anchor="end" fill="#000">600</text>
<text x="205.5" y="3972.9" font-size="52.5" text-anchor="end" fill="#000">400</text>
<text x="205.5" y="4168.2" font-size="52.5" text-anchor="end" fill="#000">200</text>
<text x="205.5" y="4363.5" font-size="52.5" text-anchor="end" fill="#000">0</text>
<text x="1850.5" y="3094" font-size="52.5" text-anchor="start" fill="#000">900</text>
<text x="1850.5" y="3227.6" font-size="52.5" text-anchor="start" fill="#000">800</text>
<text x="1850.5" y="3361.2" font-size="52.5" text-anchor="start" fill="#000">700</text>
<text x="1850.5" y="3494.8" font-size="52.5" text-anchor="start" fill="#000">600</text>
<text x="1850.5" y="3628.4" font-size="52.5" text-anchor="start" fill="#000">500</text>
<text x="1850.5" y="3762" font-size="52.5" text-anchor="start" fill="#000">400</text>
<text x="1850.5" y="3895.6" font-size="52.5" text-anchor="start" fill="#000">300</text>
<text x="1850.5" y="4029.2" font-size="52.5" text-anchor="start" fill="#000">200</text>
<text x="1850.5" y="4162.8" font-size="52.5" text-anchor="start" fill="#000">100</text>
<text x="1850.5" y="4296.4" font-size="52.5" text-anchor="start" fill="#000">0</text>
<text x="2072.5" y="3159.2" font-size="52.5">5x10<tspan font-size="36" dy="-21.9" dx="1">-10</tspan></text>
<text x="2072.5" y="3398.8" font-size="52.5">4x10<tspan font-size="36" dy="-21.9" dx="1">-10</tspan></text>
<text x="2072.5" y="3638.2" font-size="52.5">3x10<tspan font-size="36" dy="-21.9" dx="1">-10</tspan></text>
<text x="2072.5" y="3877.8" font-size="52.5">2x10<tspan font-size="36" dy="-21.9" dx="1">-10</tspan></text>
<text x="2072.5" y="4117.2" font-size="52.5">1x10<tspan font-size="36" dy="-21.9" dx="1">-10</tspan></text>
<text x="2072.5" y="4352.8" font-size="52.5" text-anchor="start" fill="#000">0</text>
<text x="1028.5" y="4517" font-size="65" text-anchor="middle" fill="#000" xml:space="preserve">Time  /  s</text>
<text transform="translate(78,3714) rotate(-90)" font-size="65" text-anchor="middle" xml:space="preserve">Detector  /  mV</text>
<text transform="translate(2001.5,3716) rotate(-90)" font-size="65" text-anchor="middle" xml:space="preserve">Temperature  /  °C</text>
<text transform="translate(2300.5,3718.5) rotate(-90)" font-size="65" text-anchor="middle" xml:space="preserve">Ion Current / A</text>
<line x1="258.9" y1="3123.8" x2="389.7" y2="3123.8" stroke="#000000" stroke-width="6.2" stroke-linecap="round"/>
<text x="406.5" y="3143.2" font-size="59" xml:space="preserve">Detector</text>
<line x1="258.9" y1="3195.8" x2="389.7" y2="3195.8" stroke="#ff0000" stroke-width="6.2" stroke-linecap="round"/>
<text x="406.5" y="3215.2" font-size="59" xml:space="preserve">Sample Temperature</text>
<line x1="258.9" y1="3267.5" x2="389.7" y2="3267.5" stroke="#00ff00" stroke-width="6.2" stroke-linecap="round"/>
<text x="406.5" y="3287" font-size="59" xml:space="preserve">OvenTemperature</text>
<line x1="258.9" y1="3340" x2="389.7" y2="3340" stroke="#000000" stroke-width="6" stroke-linecap="round" stroke-dasharray="24 36"/>
<text x="406.5" y="3359.5" font-size="59" xml:space="preserve">CO<tspan font-size="39" dy="16">2</tspan><tspan dy="-16">(m/Z=44)</tspan></text>
<line x1="258.9" y1="3425" x2="389.7" y2="3425" stroke="#ff0000" stroke-width="6" stroke-linecap="round" stroke-dasharray="24 36"/>
<text x="406.5" y="3444.5" font-size="59" xml:space="preserve">H<tspan font-size="39" dy="16">2 </tspan><tspan dy="-16">(m/Z=2)</tspan></text>
</g>
</svg>
</body>
</html>
